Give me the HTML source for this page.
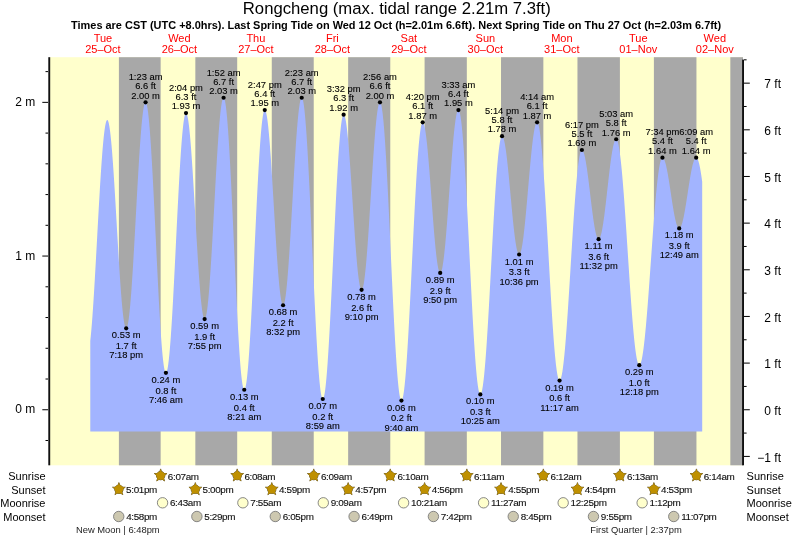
<!DOCTYPE html><html><head><meta charset="utf-8"><style>html,body{margin:0;padding:0;background:#fff;}svg{display:block;will-change:transform;}text{font-family:"Liberation Sans", sans-serif;}</style></head><body>
<svg width="793" height="539" viewBox="0 0 793 539">
<rect x="0" y="0" width="793" height="539" fill="#fff"/>
<rect x="49.00" y="57.20" width="694.00" height="408.10" fill="#ffffcc"/>
<rect x="118.90" y="57.20" width="41.75" height="408.10" fill="#a8a8a8"/>
<rect x="195.34" y="57.20" width="41.86" height="408.10" fill="#a8a8a8"/>
<rect x="271.77" y="57.20" width="41.96" height="408.10" fill="#a8a8a8"/>
<rect x="348.15" y="57.20" width="42.12" height="408.10" fill="#a8a8a8"/>
<rect x="424.59" y="57.20" width="42.23" height="408.10" fill="#a8a8a8"/>
<rect x="501.02" y="57.20" width="42.33" height="408.10" fill="#a8a8a8"/>
<rect x="577.46" y="57.20" width="42.44" height="408.10" fill="#a8a8a8"/>
<rect x="653.89" y="57.20" width="42.55" height="408.10" fill="#a8a8a8"/>
<rect x="730.33" y="57.20" width="12.67" height="408.10" fill="#a8a8a8"/>
<path d="M90.29,431.50 L90.29,340.73 L90.45,339.27 L90.61,337.74 L90.77,336.16 L90.93,334.51 L91.09,332.81 L91.25,331.04 L91.41,329.22 L91.57,327.35 L91.73,325.42 L91.89,323.44 L92.05,321.40 L92.21,319.32 L92.37,317.18 L92.52,315.00 L92.68,312.77 L92.84,310.49 L93.00,308.17 L93.16,305.81 L93.32,303.41 L93.48,300.96 L93.64,298.48 L93.80,295.96 L93.96,293.41 L94.12,290.82 L94.28,288.20 L94.44,285.54 L94.60,282.86 L94.76,280.16 L94.91,277.42 L95.07,274.66 L95.23,271.88 L95.39,269.08 L95.55,266.26 L95.71,263.43 L95.87,260.58 L96.03,257.71 L96.19,254.83 L96.35,251.94 L96.51,249.05 L96.67,246.14 L96.83,243.23 L96.99,240.32 L97.15,237.41 L97.30,234.49 L97.46,231.58 L97.62,228.68 L97.78,225.78 L97.94,222.88 L98.10,220.00 L98.26,217.12 L98.42,214.26 L98.58,211.42 L98.74,208.59 L98.90,205.77 L99.06,202.98 L99.22,200.21 L99.38,197.46 L99.54,194.74 L99.70,192.04 L99.85,189.37 L100.01,186.73 L100.17,184.12 L100.33,181.55 L100.49,179.01 L100.65,176.50 L100.81,174.04 L100.97,171.61 L101.13,169.22 L101.29,166.87 L101.45,164.57 L101.61,162.31 L101.77,160.10 L101.93,157.94 L102.09,155.82 L102.24,153.76 L102.40,151.74 L102.56,149.78 L102.72,147.87 L102.88,146.02 L103.04,144.23 L103.20,142.49 L103.36,140.81 L103.52,139.18 L103.68,137.62 L103.84,136.12 L104.00,134.68 L104.16,133.31 L104.32,132.00 L104.48,130.75 L104.63,129.57 L104.79,128.46 L104.95,127.41 L105.11,126.43 L105.27,125.51 L105.43,124.67 L105.59,123.90 L105.75,123.19 L105.91,122.56 L106.07,121.99 L106.23,121.50 L106.39,121.07 L106.55,120.72 L106.71,120.44 L106.87,120.23 L107.03,120.10 L107.18,120.03 L107.34,120.04 L107.50,120.12 L107.66,120.27 L107.82,120.50 L107.98,120.79 L108.14,121.17 L108.30,121.61 L108.46,122.12 L108.62,122.71 L108.78,123.36 L108.94,124.09 L109.10,124.89 L109.26,125.75 L109.42,126.69 L109.57,127.69 L109.73,128.76 L109.89,129.90 L110.05,131.10 L110.21,132.37 L110.37,133.70 L110.53,135.10 L110.69,136.56 L110.85,138.08 L111.01,139.65 L111.17,141.29 L111.33,142.99 L111.49,144.74 L111.65,146.55 L111.81,148.41 L111.97,150.33 L112.12,152.30 L112.28,154.32 L112.44,156.38 L112.60,158.50 L112.76,160.66 L112.92,162.86 L113.08,165.11 L113.24,167.40 L113.40,169.73 L113.56,172.09 L113.72,174.49 L113.88,176.93 L114.04,179.40 L114.20,181.90 L114.36,184.43 L114.51,186.99 L114.67,189.58 L114.83,192.19 L114.99,194.82 L115.15,197.47 L115.31,200.14 L115.47,202.83 L115.63,205.53 L115.79,208.25 L115.95,210.97 L116.11,213.71 L116.27,216.45 L116.43,219.20 L116.59,221.95 L116.75,224.71 L116.90,227.46 L117.06,230.21 L117.22,232.96 L117.38,235.70 L117.54,238.43 L117.70,241.15 L117.86,243.86 L118.02,246.56 L118.18,249.24 L118.34,251.91 L118.50,254.55 L118.66,257.17 L118.82,259.77 L118.98,262.35 L119.14,264.90 L119.30,267.42 L119.45,269.90 L119.61,272.36 L119.77,274.79 L119.93,277.17 L120.09,279.53 L120.25,281.84 L120.41,284.11 L120.57,286.34 L120.73,288.53 L120.89,290.67 L121.05,292.76 L121.21,294.81 L121.37,296.81 L121.53,298.76 L121.69,300.65 L121.84,302.49 L122.00,304.28 L122.16,306.01 L122.32,307.68 L122.48,309.30 L122.64,310.85 L122.80,312.35 L122.96,313.78 L123.12,315.15 L123.28,316.46 L123.44,317.70 L123.60,318.88 L123.76,319.99 L123.92,321.03 L124.08,322.01 L124.24,322.92 L124.39,323.76 L124.55,324.52 L124.71,325.22 L124.87,325.85 L125.03,326.41 L125.19,326.89 L125.35,327.31 L125.51,327.65 L125.67,327.92 L125.83,328.11 L125.99,328.24 L126.15,328.29 L126.31,328.26 L126.47,328.17 L126.63,327.99 L126.78,327.75 L126.94,327.42 L127.10,327.02 L127.26,326.55 L127.42,326.01 L127.58,325.39 L127.74,324.69 L127.90,323.92 L128.06,323.09 L128.22,322.17 L128.38,321.19 L128.54,320.14 L128.70,319.02 L128.86,317.83 L129.02,316.57 L129.17,315.24 L129.33,313.84 L129.49,312.38 L129.65,310.86 L129.81,309.27 L129.97,307.62 L130.13,305.91 L130.29,304.13 L130.45,302.30 L130.61,300.41 L130.77,298.47 L130.93,296.46 L131.09,294.41 L131.25,292.30 L131.41,290.14 L131.57,287.93 L131.72,285.67 L131.88,283.36 L132.04,281.01 L132.20,278.62 L132.36,276.18 L132.52,273.70 L132.68,271.19 L132.84,268.63 L133.00,266.04 L133.16,263.42 L133.32,260.76 L133.48,258.08 L133.64,255.37 L133.80,252.62 L133.96,249.86 L134.11,247.07 L134.27,244.26 L134.43,241.43 L134.59,238.59 L134.75,235.72 L134.91,232.85 L135.07,229.96 L135.23,227.06 L135.39,224.16 L135.55,221.25 L135.71,218.33 L135.87,215.42 L136.03,212.50 L136.19,209.59 L136.35,206.67 L136.50,203.77 L136.66,200.87 L136.82,197.98 L136.98,195.11 L137.14,192.24 L137.30,189.40 L137.46,186.57 L137.62,183.76 L137.78,180.97 L137.94,178.20 L138.10,175.46 L138.26,172.74 L138.42,170.05 L138.58,167.40 L138.74,164.77 L138.90,162.18 L139.05,159.62 L139.21,157.10 L139.37,154.62 L139.53,152.18 L139.69,149.79 L139.85,147.43 L140.01,145.12 L140.17,142.86 L140.33,140.65 L140.49,138.48 L140.65,136.37 L140.81,134.31 L140.97,132.31 L141.13,130.36 L141.29,128.46 L141.44,126.63 L141.60,124.85 L141.76,123.13 L141.92,121.48 L142.08,119.88 L142.24,118.36 L142.40,116.89 L142.56,115.49 L142.72,114.16 L142.88,112.90 L143.04,111.70 L143.20,110.57 L143.36,109.51 L143.52,108.53 L143.68,107.61 L143.84,106.77 L143.99,106.00 L144.15,105.30 L144.31,104.67 L144.47,104.12 L144.63,103.64 L144.79,103.24 L144.95,102.91 L145.11,102.66 L145.27,102.48 L145.43,102.38 L145.59,102.35 L145.75,102.40 L145.91,102.54 L146.07,102.75 L146.23,103.05 L146.38,103.43 L146.54,103.89 L146.70,104.43 L146.86,105.05 L147.02,105.75 L147.18,106.53 L147.34,107.39 L147.50,108.33 L147.66,109.35 L147.82,110.45 L147.98,111.62 L148.14,112.87 L148.30,114.19 L148.46,115.59 L148.62,117.07 L148.77,118.61 L148.93,120.23 L149.09,121.92 L149.25,123.68 L149.41,125.51 L149.57,127.40 L149.73,129.37 L149.89,131.40 L150.05,133.49 L150.21,135.64 L150.37,137.86 L150.53,140.14 L150.69,142.48 L150.85,144.87 L151.01,147.32 L151.17,149.83 L151.32,152.39 L151.48,155.00 L151.64,157.66 L151.80,160.36 L151.96,163.12 L152.12,165.92 L152.28,168.76 L152.44,171.65 L152.60,174.58 L152.76,177.54 L152.92,180.54 L153.08,183.57 L153.24,186.64 L153.40,189.74 L153.56,192.87 L153.71,196.02 L153.87,199.20 L154.03,202.40 L154.19,205.63 L154.35,208.87 L154.51,212.13 L154.67,215.41 L154.83,218.70 L154.99,222.00 L155.15,225.31 L155.31,228.63 L155.47,231.95 L155.63,235.28 L155.79,238.60 L155.95,241.93 L156.11,245.26 L156.26,248.58 L156.42,251.89 L156.58,255.20 L156.74,258.49 L156.90,261.77 L157.06,265.04 L157.22,268.29 L157.38,271.52 L157.54,274.73 L157.70,277.92 L157.86,281.09 L158.02,284.23 L158.18,287.34 L158.34,290.42 L158.50,293.46 L158.65,296.48 L158.81,299.46 L158.97,302.40 L159.13,305.30 L159.29,308.16 L159.45,310.98 L159.61,313.75 L159.77,316.48 L159.93,319.16 L160.09,321.79 L160.25,324.37 L160.41,326.89 L160.57,329.37 L160.73,331.78 L160.89,334.14 L161.04,336.45 L161.20,338.69 L161.36,340.87 L161.52,342.99 L161.68,345.04 L161.84,347.03 L162.00,348.95 L162.16,350.81 L162.32,352.60 L162.48,354.31 L162.64,355.96 L162.80,357.54 L162.96,359.04 L163.12,360.47 L163.28,361.82 L163.44,363.10 L163.59,364.30 L163.75,365.43 L163.91,366.48 L164.07,367.45 L164.23,368.34 L164.39,369.16 L164.55,369.89 L164.71,370.54 L164.87,371.12 L165.03,371.61 L165.19,372.02 L165.35,372.35 L165.51,372.60 L165.67,372.77 L165.83,372.85 L165.98,372.85 L166.14,372.78 L166.30,372.62 L166.46,372.38 L166.62,372.06 L166.78,371.66 L166.94,371.18 L167.10,370.62 L167.26,369.98 L167.42,369.26 L167.58,368.46 L167.74,367.59 L167.90,366.64 L168.06,365.61 L168.22,364.50 L168.37,363.32 L168.53,362.07 L168.69,360.74 L168.85,359.34 L169.01,357.86 L169.17,356.32 L169.33,354.70 L169.49,353.01 L169.65,351.26 L169.81,349.44 L169.97,347.55 L170.13,345.59 L170.29,343.58 L170.45,341.50 L170.61,339.36 L170.77,337.16 L170.92,334.90 L171.08,332.58 L171.24,330.21 L171.40,327.78 L171.56,325.31 L171.72,322.78 L171.88,320.20 L172.04,317.57 L172.20,314.89 L172.36,312.18 L172.52,309.41 L172.68,306.61 L172.84,303.77 L173.00,300.89 L173.16,297.97 L173.31,295.02 L173.47,292.04 L173.63,289.02 L173.79,285.98 L173.95,282.91 L174.11,279.82 L174.27,276.70 L174.43,273.57 L174.59,270.41 L174.75,267.24 L174.91,264.05 L175.07,260.85 L175.23,257.63 L175.39,254.41 L175.55,251.18 L175.71,247.95 L175.86,244.71 L176.02,241.47 L176.18,238.24 L176.34,235.00 L176.50,231.77 L176.66,228.55 L176.82,225.34 L176.98,222.14 L177.14,218.95 L177.30,215.77 L177.46,212.61 L177.62,209.48 L177.78,206.36 L177.94,203.26 L178.10,200.19 L178.25,197.15 L178.41,194.13 L178.57,191.15 L178.73,188.20 L178.89,185.28 L179.05,182.39 L179.21,179.55 L179.37,176.74 L179.53,173.98 L179.69,171.26 L179.85,168.58 L180.01,165.95 L180.17,163.37 L180.33,160.83 L180.49,158.35 L180.64,155.92 L180.80,153.55 L180.96,151.23 L181.12,148.96 L181.28,146.76 L181.44,144.61 L181.60,142.53 L181.76,140.51 L181.92,138.55 L182.08,136.66 L182.24,134.83 L182.40,133.07 L182.56,131.38 L182.72,129.76 L182.88,128.21 L183.04,126.73 L183.19,125.32 L183.35,123.99 L183.51,122.73 L183.67,121.54 L183.83,120.43 L183.99,119.40 L184.15,118.44 L184.31,117.56 L184.47,116.76 L184.63,116.04 L184.79,115.39 L184.95,114.83 L185.11,114.34 L185.27,113.94 L185.43,113.61 L185.58,113.37 L185.74,113.20 L185.90,113.12 L186.06,113.12 L186.22,113.19 L186.38,113.33 L186.54,113.55 L186.70,113.85 L186.86,114.22 L187.02,114.66 L187.18,115.17 L187.34,115.76 L187.50,116.42 L187.66,117.15 L187.82,117.95 L187.98,118.82 L188.13,119.77 L188.29,120.78 L188.45,121.86 L188.61,123.01 L188.77,124.23 L188.93,125.51 L189.09,126.86 L189.25,128.27 L189.41,129.75 L189.57,131.29 L189.73,132.88 L189.89,134.54 L190.05,136.26 L190.21,138.04 L190.37,139.87 L190.52,141.76 L190.68,143.70 L190.84,145.69 L191.00,147.73 L191.16,149.82 L191.32,151.96 L191.48,154.15 L191.64,156.38 L191.80,158.66 L191.96,160.97 L192.12,163.33 L192.28,165.72 L192.44,168.15 L192.60,170.61 L192.76,173.11 L192.91,175.64 L193.07,178.20 L193.23,180.78 L193.39,183.39 L193.55,186.02 L193.71,188.68 L193.87,191.35 L194.03,194.05 L194.19,196.76 L194.35,199.48 L194.51,202.21 L194.67,204.96 L194.83,207.71 L194.99,210.47 L195.15,213.23 L195.31,216.00 L195.46,218.76 L195.62,221.52 L195.78,224.28 L195.94,227.04 L196.10,229.78 L196.26,232.52 L196.42,235.24 L196.58,237.95 L196.74,240.64 L196.90,243.32 L197.06,245.98 L197.22,248.61 L197.38,251.22 L197.54,253.81 L197.70,256.37 L197.85,258.90 L198.01,261.40 L198.17,263.86 L198.33,266.30 L198.49,268.69 L198.65,271.05 L198.81,273.37 L198.97,275.64 L199.13,277.88 L199.29,280.07 L199.45,282.21 L199.61,284.31 L199.77,286.35 L199.93,288.35 L200.09,290.29 L200.24,292.18 L200.40,294.02 L200.56,295.80 L200.72,297.52 L200.88,299.18 L201.04,300.79 L201.20,302.33 L201.36,303.81 L201.52,305.22 L201.68,306.58 L201.84,307.86 L202.00,309.08 L202.16,310.24 L202.32,311.32 L202.48,312.34 L202.64,313.29 L202.79,314.17 L202.95,314.98 L203.11,315.71 L203.27,316.38 L203.43,316.97 L203.59,317.49 L203.75,317.93 L203.91,318.31 L204.07,318.60 L204.23,318.83 L204.39,318.98 L204.55,319.06 L204.71,319.06 L204.87,318.98 L205.03,318.83 L205.18,318.60 L205.34,318.30 L205.50,317.92 L205.66,317.46 L205.82,316.92 L205.98,316.31 L206.14,315.63 L206.30,314.87 L206.46,314.04 L206.62,313.13 L206.78,312.15 L206.94,311.09 L207.10,309.97 L207.26,308.77 L207.42,307.51 L207.58,306.17 L207.73,304.77 L207.89,303.30 L208.05,301.77 L208.21,300.17 L208.37,298.50 L208.53,296.77 L208.69,294.98 L208.85,293.13 L209.01,291.23 L209.17,289.26 L209.33,287.24 L209.49,285.16 L209.65,283.03 L209.81,280.85 L209.97,278.61 L210.12,276.33 L210.28,274.00 L210.44,271.62 L210.60,269.20 L210.76,266.74 L210.92,264.24 L211.08,261.70 L211.24,259.12 L211.40,256.51 L211.56,253.86 L211.72,251.18 L211.88,248.47 L212.04,245.73 L212.20,242.97 L212.36,240.18 L212.51,237.37 L212.67,234.54 L212.83,231.70 L212.99,228.83 L213.15,225.96 L213.31,223.06 L213.47,220.16 L213.63,217.26 L213.79,214.34 L213.95,211.42 L214.11,208.50 L214.27,205.58 L214.43,202.66 L214.59,199.74 L214.75,196.84 L214.91,193.93 L215.06,191.04 L215.22,188.16 L215.38,185.30 L215.54,182.45 L215.70,179.62 L215.86,176.81 L216.02,174.02 L216.18,171.26 L216.34,168.52 L216.50,165.81 L216.66,163.13 L216.82,160.48 L216.98,157.86 L217.14,155.28 L217.30,152.73 L217.45,150.23 L217.61,147.76 L217.77,145.34 L217.93,142.96 L218.09,140.63 L218.25,138.34 L218.41,136.11 L218.57,133.92 L218.73,131.79 L218.89,129.71 L219.05,127.68 L219.21,125.71 L219.37,123.80 L219.53,121.94 L219.69,120.15 L219.85,118.42 L220.00,116.75 L220.16,115.14 L220.32,113.60 L220.48,112.13 L220.64,110.72 L220.80,109.38 L220.96,108.11 L221.12,106.91 L221.28,105.78 L221.44,104.73 L221.60,103.74 L221.76,102.83 L221.92,101.99 L222.08,101.23 L222.24,100.54 L222.39,99.92 L222.55,99.38 L222.71,98.92 L222.87,98.53 L223.03,98.22 L223.19,97.99 L223.35,97.83 L223.51,97.75 L223.67,97.75 L223.83,97.83 L223.99,98.00 L224.15,98.25 L224.31,98.59 L224.47,99.02 L224.63,99.53 L224.78,100.12 L224.94,100.80 L225.10,101.56 L225.26,102.41 L225.42,103.34 L225.58,104.35 L225.74,105.44 L225.90,106.62 L226.06,107.87 L226.22,109.21 L226.38,110.62 L226.54,112.11 L226.70,113.68 L226.86,115.33 L227.02,117.05 L227.18,118.84 L227.33,120.71 L227.49,122.65 L227.65,124.66 L227.81,126.74 L227.97,128.89 L228.13,131.11 L228.29,133.40 L228.45,135.74 L228.61,138.16 L228.77,140.63 L228.93,143.17 L229.09,145.76 L229.25,148.41 L229.41,151.12 L229.57,153.88 L229.72,156.69 L229.88,159.56 L230.04,162.47 L230.20,165.44 L230.36,168.44 L230.52,171.50 L230.68,174.59 L230.84,177.73 L231.00,180.90 L231.16,184.11 L231.32,187.36 L231.48,190.64 L231.64,193.95 L231.80,197.29 L231.96,200.66 L232.11,204.05 L232.27,207.46 L232.43,210.90 L232.59,214.36 L232.75,217.83 L232.91,221.32 L233.07,224.82 L233.23,228.33 L233.39,231.86 L233.55,235.39 L233.71,238.92 L233.87,242.46 L234.03,245.99 L234.19,249.53 L234.35,253.06 L234.51,256.59 L234.66,260.11 L234.82,263.62 L234.98,267.12 L235.14,270.60 L235.30,274.07 L235.46,277.53 L235.62,280.96 L235.78,284.37 L235.94,287.75 L236.10,291.11 L236.26,294.44 L236.42,297.75 L236.58,301.02 L236.74,304.25 L236.90,307.46 L237.05,310.62 L237.21,313.75 L237.37,316.83 L237.53,319.87 L237.69,322.87 L237.85,325.82 L238.01,328.72 L238.17,331.57 L238.33,334.37 L238.49,337.12 L238.65,339.81 L238.81,342.45 L238.97,345.02 L239.13,347.54 L239.29,350.00 L239.45,352.40 L239.60,354.73 L239.76,356.99 L239.92,359.19 L240.08,361.33 L240.24,363.39 L240.40,365.38 L240.56,367.30 L240.72,369.15 L240.88,370.93 L241.04,372.63 L241.20,374.25 L241.36,375.80 L241.52,377.27 L241.68,378.67 L241.84,379.98 L241.99,381.21 L242.15,382.37 L242.31,383.44 L242.47,384.43 L242.63,385.33 L242.79,386.16 L242.95,386.90 L243.11,387.55 L243.27,388.12 L243.43,388.61 L243.59,389.01 L243.75,389.33 L243.91,389.56 L244.07,389.71 L244.23,389.77 L244.38,389.74 L244.54,389.63 L244.70,389.44 L244.86,389.17 L245.02,388.81 L245.18,388.37 L245.34,387.85 L245.50,387.24 L245.66,386.55 L245.82,385.78 L245.98,384.93 L246.14,384.00 L246.30,382.99 L246.46,381.90 L246.62,380.74 L246.78,379.49 L246.93,378.17 L247.09,376.77 L247.25,375.29 L247.41,373.74 L247.57,372.12 L247.73,370.42 L247.89,368.65 L248.05,366.81 L248.21,364.90 L248.37,362.92 L248.53,360.88 L248.69,358.77 L248.85,356.59 L249.01,354.35 L249.17,352.05 L249.32,349.68 L249.48,347.26 L249.64,344.78 L249.80,342.24 L249.96,339.65 L250.12,337.01 L250.28,334.31 L250.44,331.56 L250.60,328.76 L250.76,325.92 L250.92,323.03 L251.08,320.10 L251.24,317.12 L251.40,314.11 L251.56,311.06 L251.72,307.97 L251.87,304.84 L252.03,301.69 L252.19,298.50 L252.35,295.28 L252.51,292.04 L252.67,288.77 L252.83,285.48 L252.99,282.17 L253.15,278.83 L253.31,275.48 L253.47,272.12 L253.63,268.74 L253.79,265.35 L253.95,261.95 L254.11,258.55 L254.26,255.14 L254.42,251.72 L254.58,248.31 L254.74,244.89 L254.90,241.48 L255.06,238.08 L255.22,234.68 L255.38,231.29 L255.54,227.91 L255.70,224.54 L255.86,221.19 L256.02,217.86 L256.18,214.55 L256.34,211.25 L256.50,207.98 L256.65,204.74 L256.81,201.52 L256.97,198.33 L257.13,195.17 L257.29,192.04 L257.45,188.95 L257.61,185.90 L257.77,182.88 L257.93,179.90 L258.09,176.97 L258.25,174.08 L258.41,171.23 L258.57,168.43 L258.73,165.68 L258.89,162.98 L259.05,160.33 L259.20,157.73 L259.36,155.19 L259.52,152.71 L259.68,150.28 L259.84,147.91 L260.00,145.61 L260.16,143.36 L260.32,141.18 L260.48,139.07 L260.64,137.02 L260.80,135.03 L260.96,133.12 L261.12,131.27 L261.28,129.50 L261.44,127.80 L261.59,126.17 L261.75,124.61 L261.91,123.13 L262.07,121.73 L262.23,120.40 L262.39,119.15 L262.55,117.98 L262.71,116.88 L262.87,115.87 L263.03,114.93 L263.19,114.07 L263.35,113.30 L263.51,112.61 L263.67,112.00 L263.83,111.47 L263.98,111.02 L264.14,110.66 L264.30,110.38 L264.46,110.18 L264.62,110.07 L264.78,110.04 L264.94,110.08 L265.10,110.20 L265.26,110.39 L265.42,110.66 L265.58,110.99 L265.74,111.40 L265.90,111.88 L266.06,112.43 L266.22,113.06 L266.38,113.75 L266.53,114.51 L266.69,115.35 L266.85,116.25 L267.01,117.22 L267.17,118.26 L267.33,119.36 L267.49,120.53 L267.65,121.77 L267.81,123.07 L267.97,124.43 L268.13,125.85 L268.29,127.34 L268.45,128.88 L268.61,130.49 L268.77,132.15 L268.92,133.87 L269.08,135.64 L269.24,137.47 L269.40,139.35 L269.56,141.28 L269.72,143.26 L269.88,145.29 L270.04,147.36 L270.20,149.48 L270.36,151.64 L270.52,153.85 L270.68,156.09 L270.84,158.37 L271.00,160.69 L271.16,163.05 L271.32,165.44 L271.47,167.86 L271.63,170.31 L271.79,172.78 L271.95,175.29 L272.11,177.81 L272.27,180.36 L272.43,182.93 L272.59,185.52 L272.75,188.13 L272.91,190.74 L273.07,193.38 L273.23,196.02 L273.39,198.67 L273.55,201.33 L273.71,203.99 L273.86,206.66 L274.02,209.32 L274.18,211.99 L274.34,214.65 L274.50,217.31 L274.66,219.96 L274.82,222.60 L274.98,225.22 L275.14,227.84 L275.30,230.44 L275.46,233.02 L275.62,235.59 L275.78,238.13 L275.94,240.65 L276.10,243.15 L276.25,245.62 L276.41,248.06 L276.57,250.47 L276.73,252.85 L276.89,255.20 L277.05,257.51 L277.21,259.78 L277.37,262.01 L277.53,264.21 L277.69,266.36 L277.85,268.47 L278.01,270.53 L278.17,272.54 L278.33,274.51 L278.49,276.43 L278.65,278.29 L278.80,280.11 L278.96,281.86 L279.12,283.57 L279.28,285.21 L279.44,286.80 L279.60,288.33 L279.76,289.80 L279.92,291.21 L280.08,292.56 L280.24,293.84 L280.40,295.06 L280.56,296.21 L280.72,297.29 L280.88,298.31 L281.04,299.27 L281.19,300.15 L281.35,300.97 L281.51,301.71 L281.67,302.38 L281.83,302.99 L281.99,303.52 L282.15,303.98 L282.31,304.37 L282.47,304.69 L282.63,304.93 L282.79,305.11 L282.95,305.21 L283.11,305.23 L283.27,305.19 L283.43,305.06 L283.59,304.87 L283.74,304.60 L283.90,304.25 L284.06,303.83 L284.22,303.34 L284.38,302.77 L284.54,302.13 L284.70,301.42 L284.86,300.63 L285.02,299.78 L285.18,298.85 L285.34,297.85 L285.50,296.79 L285.66,295.65 L285.82,294.45 L285.98,293.18 L286.13,291.84 L286.29,290.44 L286.45,288.97 L286.61,287.45 L286.77,285.85 L286.93,284.20 L287.09,282.49 L287.25,280.72 L287.41,278.90 L287.57,277.01 L287.73,275.08 L287.89,273.09 L288.05,271.05 L288.21,268.95 L288.37,266.81 L288.52,264.63 L288.68,262.39 L288.84,260.12 L289.00,257.80 L289.16,255.44 L289.32,253.04 L289.48,250.60 L289.64,248.13 L289.80,245.63 L289.96,243.09 L290.12,240.52 L290.28,237.93 L290.44,235.31 L290.60,232.66 L290.76,229.99 L290.92,227.31 L291.07,224.60 L291.23,221.87 L291.39,219.14 L291.55,216.38 L291.71,213.62 L291.87,210.85 L292.03,208.07 L292.19,205.29 L292.35,202.51 L292.51,199.72 L292.67,196.94 L292.83,194.16 L292.99,191.38 L293.15,188.61 L293.31,185.85 L293.46,183.11 L293.62,180.37 L293.78,177.65 L293.94,174.95 L294.10,172.27 L294.26,169.60 L294.42,166.96 L294.58,164.35 L294.74,161.76 L294.90,159.20 L295.06,156.68 L295.22,154.18 L295.38,151.72 L295.54,149.29 L295.70,146.90 L295.85,144.55 L296.01,142.25 L296.17,139.98 L296.33,137.76 L296.49,135.58 L296.65,133.46 L296.81,131.38 L296.97,129.35 L297.13,127.37 L297.29,125.45 L297.45,123.58 L297.61,121.77 L297.77,120.02 L297.93,118.32 L298.09,116.69 L298.25,115.11 L298.40,113.60 L298.56,112.15 L298.72,110.77 L298.88,109.45 L299.04,108.20 L299.20,107.01 L299.36,105.90 L299.52,104.85 L299.68,103.87 L299.84,102.96 L300.00,102.12 L300.16,101.36 L300.32,100.67 L300.48,100.04 L300.64,99.50 L300.79,99.02 L300.95,98.62 L301.11,98.30 L301.27,98.05 L301.43,97.87 L301.59,97.77 L301.75,97.74 L301.91,97.79 L302.07,97.93 L302.23,98.16 L302.39,98.47 L302.55,98.86 L302.71,99.34 L302.87,99.90 L303.03,100.55 L303.19,101.28 L303.34,102.10 L303.50,103.00 L303.66,103.98 L303.82,105.04 L303.98,106.18 L304.14,107.40 L304.30,108.71 L304.46,110.09 L304.62,111.55 L304.78,113.09 L304.94,114.70 L305.10,116.39 L305.26,118.16 L305.42,120.00 L305.58,121.91 L305.73,123.89 L305.89,125.95 L306.05,128.07 L306.21,130.26 L306.37,132.52 L306.53,134.84 L306.69,137.23 L306.85,139.68 L307.01,142.19 L307.17,144.77 L307.33,147.40 L307.49,150.09 L307.65,152.83 L307.81,155.63 L307.97,158.48 L308.12,161.38 L308.28,164.33 L308.44,167.33 L308.60,170.38 L308.76,173.47 L308.92,176.60 L309.08,179.77 L309.24,182.98 L309.40,186.23 L309.56,189.51 L309.72,192.83 L309.88,196.17 L310.04,199.55 L310.20,202.96 L310.36,206.39 L310.52,209.84 L310.67,213.32 L310.83,216.81 L310.99,220.33 L311.15,223.86 L311.31,227.40 L311.47,230.96 L311.63,234.52 L311.79,238.10 L311.95,241.68 L312.11,245.26 L312.27,248.84 L312.43,252.43 L312.59,256.01 L312.75,259.59 L312.91,263.16 L313.06,266.72 L313.22,270.27 L313.38,273.81 L313.54,277.34 L313.70,280.85 L313.86,284.34 L314.02,287.81 L314.18,291.26 L314.34,294.68 L314.50,298.08 L314.66,301.45 L314.82,304.79 L314.98,308.10 L315.14,311.37 L315.30,314.61 L315.46,317.81 L315.61,320.97 L315.77,324.09 L315.93,327.17 L316.09,330.20 L316.25,333.19 L316.41,336.13 L316.57,339.01 L316.73,341.85 L316.89,344.64 L317.05,347.36 L317.21,350.04 L317.37,352.65 L317.53,355.21 L317.69,357.71 L317.85,360.14 L318.00,362.51 L318.16,364.82 L318.32,367.06 L318.48,369.23 L318.64,371.34 L318.80,373.37 L318.96,375.34 L319.12,377.23 L319.28,379.05 L319.44,380.79 L319.60,382.47 L319.76,384.06 L319.92,385.58 L320.08,387.02 L320.24,388.38 L320.39,389.66 L320.55,390.86 L320.71,391.98 L320.87,393.02 L321.03,393.98 L321.19,394.86 L321.35,395.65 L321.51,396.36 L321.67,396.98 L321.83,397.53 L321.99,397.98 L322.15,398.35 L322.31,398.64 L322.47,398.84 L322.63,398.96 L322.79,398.99 L322.94,398.94 L323.10,398.80 L323.26,398.59 L323.42,398.29 L323.58,397.92 L323.74,397.46 L323.90,396.92 L324.06,396.30 L324.22,395.59 L324.38,394.81 L324.54,393.95 L324.70,393.01 L324.86,392.00 L325.02,390.90 L325.18,389.73 L325.33,388.48 L325.49,387.16 L325.65,385.76 L325.81,384.29 L325.97,382.74 L326.13,381.12 L326.29,379.43 L326.45,377.67 L326.61,375.84 L326.77,373.94 L326.93,371.97 L327.09,369.94 L327.25,367.84 L327.41,365.68 L327.57,363.46 L327.72,361.17 L327.88,358.83 L328.04,356.42 L328.20,353.96 L328.36,351.44 L328.52,348.87 L328.68,346.25 L328.84,343.57 L329.00,340.84 L329.16,338.07 L329.32,335.25 L329.48,332.38 L329.64,329.47 L329.80,326.52 L329.96,323.53 L330.12,320.50 L330.27,317.43 L330.43,314.33 L330.59,311.20 L330.75,308.03 L330.91,304.84 L331.07,301.62 L331.23,298.37 L331.39,295.10 L331.55,291.80 L331.71,288.49 L331.87,285.15 L332.03,281.80 L332.19,278.44 L332.35,275.07 L332.51,271.68 L332.66,268.28 L332.82,264.88 L332.98,261.48 L333.14,258.07 L333.30,254.66 L333.46,251.25 L333.62,247.85 L333.78,244.45 L333.94,241.05 L334.10,237.67 L334.26,234.30 L334.42,230.94 L334.58,227.59 L334.74,224.26 L334.90,220.96 L335.06,217.67 L335.21,214.40 L335.37,211.16 L335.53,207.94 L335.69,204.76 L335.85,201.60 L336.01,198.47 L336.17,195.38 L336.33,192.32 L336.49,189.30 L336.65,186.32 L336.81,183.38 L336.97,180.49 L337.13,177.63 L337.29,174.82 L337.45,172.06 L337.60,169.35 L337.76,166.69 L337.92,164.08 L338.08,161.52 L338.24,159.02 L338.40,156.57 L338.56,154.18 L338.72,151.85 L338.88,149.58 L339.04,147.37 L339.20,145.23 L339.36,143.15 L339.52,141.13 L339.68,139.19 L339.84,137.30 L339.99,135.49 L340.15,133.75 L340.31,132.08 L340.47,130.48 L340.63,128.95 L340.79,127.50 L340.95,126.12 L341.11,124.81 L341.27,123.59 L341.43,122.43 L341.59,121.36 L341.75,120.36 L341.91,119.45 L342.07,118.61 L342.23,117.85 L342.39,117.17 L342.54,116.57 L342.70,116.05 L342.86,115.61 L343.02,115.26 L343.18,114.98 L343.34,114.79 L343.50,114.68 L343.66,114.65 L343.82,114.69 L343.98,114.80 L344.14,114.98 L344.30,115.23 L344.46,115.54 L344.62,115.92 L344.78,116.37 L344.93,116.89 L345.09,117.47 L345.25,118.12 L345.41,118.83 L345.57,119.61 L345.73,120.46 L345.89,121.36 L346.05,122.33 L346.21,123.36 L346.37,124.46 L346.53,125.61 L346.69,126.82 L346.85,128.09 L347.01,129.42 L347.17,130.81 L347.33,132.25 L347.48,133.75 L347.64,135.29 L347.80,136.90 L347.96,138.55 L348.12,140.25 L348.28,142.00 L348.44,143.79 L348.60,145.64 L348.76,147.52 L348.92,149.45 L349.08,151.42 L349.24,153.43 L349.40,155.48 L349.56,157.56 L349.72,159.68 L349.87,161.83 L350.03,164.01 L350.19,166.22 L350.35,168.47 L350.51,170.73 L350.67,173.02 L350.83,175.34 L350.99,177.67 L351.15,180.03 L351.31,182.40 L351.47,184.78 L351.63,187.18 L351.79,189.60 L351.95,192.02 L352.11,194.45 L352.26,196.88 L352.42,199.32 L352.58,201.77 L352.74,204.21 L352.90,206.65 L353.06,209.09 L353.22,211.52 L353.38,213.95 L353.54,216.36 L353.70,218.77 L353.86,221.16 L354.02,223.54 L354.18,225.90 L354.34,228.24 L354.50,230.56 L354.66,232.86 L354.81,235.14 L354.97,237.39 L355.13,239.62 L355.29,241.81 L355.45,243.97 L355.61,246.11 L355.77,248.20 L355.93,250.27 L356.09,252.29 L356.25,254.28 L356.41,256.22 L356.57,258.12 L356.73,259.98 L356.89,261.80 L357.05,263.57 L357.20,265.29 L357.36,266.96 L357.52,268.58 L357.68,270.15 L357.84,271.67 L358.00,273.13 L358.16,274.54 L358.32,275.89 L358.48,277.19 L358.64,278.42 L358.80,279.60 L358.96,280.72 L359.12,281.77 L359.28,282.77 L359.44,283.70 L359.59,284.57 L359.75,285.37 L359.91,286.11 L360.07,286.79 L360.23,287.40 L360.39,287.94 L360.55,288.41 L360.71,288.82 L360.87,289.16 L361.03,289.44 L361.19,289.65 L361.35,289.78 L361.51,289.85 L361.67,289.86 L361.83,289.79 L361.99,289.65 L362.14,289.45 L362.30,289.17 L362.46,288.83 L362.62,288.41 L362.78,287.93 L362.94,287.38 L363.10,286.76 L363.26,286.08 L363.42,285.33 L363.58,284.51 L363.74,283.63 L363.90,282.68 L364.06,281.67 L364.22,280.59 L364.38,279.45 L364.53,278.25 L364.69,276.99 L364.85,275.67 L365.01,274.29 L365.17,272.85 L365.33,271.35 L365.49,269.80 L365.65,268.20 L365.81,266.54 L365.97,264.82 L366.13,263.06 L366.29,261.25 L366.45,259.39 L366.61,257.48 L366.77,255.53 L366.93,253.53 L367.08,251.49 L367.24,249.41 L367.40,247.29 L367.56,245.13 L367.72,242.94 L367.88,240.71 L368.04,238.44 L368.20,236.15 L368.36,233.83 L368.52,231.47 L368.68,229.10 L368.84,226.69 L369.00,224.27 L369.16,221.82 L369.32,219.36 L369.47,216.88 L369.63,214.38 L369.79,211.87 L369.95,209.34 L370.11,206.81 L370.27,204.27 L370.43,201.72 L370.59,199.17 L370.75,196.62 L370.91,194.06 L371.07,191.51 L371.23,188.96 L371.39,186.42 L371.55,183.88 L371.71,181.36 L371.86,178.84 L372.02,176.34 L372.18,173.85 L372.34,171.38 L372.50,168.92 L372.66,166.49 L372.82,164.08 L372.98,161.69 L373.14,159.33 L373.30,156.99 L373.46,154.68 L373.62,152.41 L373.78,150.17 L373.94,147.96 L374.10,145.78 L374.26,143.65 L374.41,141.55 L374.57,139.49 L374.73,137.48 L374.89,135.51 L375.05,133.58 L375.21,131.70 L375.37,129.87 L375.53,128.09 L375.69,126.36 L375.85,124.68 L376.01,123.05 L376.17,121.47 L376.33,119.96 L376.49,118.50 L376.65,117.09 L376.80,115.75 L376.96,114.46 L377.12,113.24 L377.28,112.07 L377.44,110.97 L377.60,109.93 L377.76,108.96 L377.92,108.05 L378.08,107.21 L378.24,106.43 L378.40,105.72 L378.56,105.07 L378.72,104.49 L378.88,103.99 L379.04,103.54 L379.20,103.17 L379.35,102.87 L379.51,102.64 L379.67,102.47 L379.83,102.38 L379.99,102.35 L380.15,102.40 L380.31,102.53 L380.47,102.75 L380.63,103.04 L380.79,103.42 L380.95,103.87 L381.11,104.41 L381.27,105.03 L381.43,105.72 L381.59,106.50 L381.74,107.35 L381.90,108.28 L382.06,109.29 L382.22,110.38 L382.38,111.54 L382.54,112.79 L382.70,114.10 L382.86,115.49 L383.02,116.96 L383.18,118.49 L383.34,120.10 L383.50,121.79 L383.66,123.54 L383.82,125.36 L383.98,127.25 L384.13,129.21 L384.29,131.23 L384.45,133.32 L384.61,135.48 L384.77,137.70 L384.93,139.97 L385.09,142.31 L385.25,144.71 L385.41,147.17 L385.57,149.69 L385.73,152.25 L385.89,154.88 L386.05,157.55 L386.21,160.28 L386.37,163.06 L386.53,165.88 L386.68,168.75 L386.84,171.67 L387.00,174.63 L387.16,177.63 L387.32,180.67 L387.48,183.75 L387.64,186.87 L387.80,190.02 L387.96,193.21 L388.12,196.43 L388.28,199.67 L388.44,202.95 L388.60,206.25 L388.76,209.58 L388.92,212.93 L389.07,216.30 L389.23,219.69 L389.39,223.09 L389.55,226.51 L389.71,229.95 L389.87,233.40 L390.03,236.85 L390.19,240.32 L390.35,243.79 L390.51,247.27 L390.67,250.74 L390.83,254.22 L390.99,257.70 L391.15,261.17 L391.31,264.64 L391.46,268.10 L391.62,271.55 L391.78,274.99 L391.94,278.42 L392.10,281.83 L392.26,285.23 L392.42,288.61 L392.58,291.96 L392.74,295.30 L392.90,298.61 L393.06,301.90 L393.22,305.16 L393.38,308.39 L393.54,311.58 L393.70,314.75 L393.86,317.88 L394.01,320.98 L394.17,324.03 L394.33,327.05 L394.49,330.03 L394.65,332.96 L394.81,335.85 L394.97,338.70 L395.13,341.49 L395.29,344.24 L395.45,346.94 L395.61,349.58 L395.77,352.17 L395.93,354.71 L396.09,357.19 L396.25,359.61 L396.40,361.97 L396.56,364.28 L396.72,366.52 L396.88,368.70 L397.04,370.82 L397.20,372.87 L397.36,374.85 L397.52,376.77 L397.68,378.62 L397.84,380.40 L398.00,382.11 L398.16,383.75 L398.32,385.31 L398.48,386.81 L398.64,388.23 L398.80,389.58 L398.95,390.85 L399.11,392.04 L399.27,393.16 L399.43,394.20 L399.59,395.16 L399.75,396.05 L399.91,396.86 L400.07,397.58 L400.23,398.23 L400.39,398.80 L400.55,399.29 L400.71,399.70 L400.87,400.02 L401.03,400.27 L401.19,400.43 L401.34,400.52 L401.50,400.52 L401.66,400.44 L401.82,400.29 L401.98,400.06 L402.14,399.76 L402.30,399.38 L402.46,398.92 L402.62,398.38 L402.78,397.77 L402.94,397.08 L403.10,396.32 L403.26,395.48 L403.42,394.57 L403.58,393.58 L403.73,392.53 L403.89,391.39 L404.05,390.19 L404.21,388.91 L404.37,387.57 L404.53,386.15 L404.69,384.67 L404.85,383.11 L405.01,381.49 L405.17,379.80 L405.33,378.05 L405.49,376.23 L405.65,374.35 L405.81,372.40 L405.97,370.39 L406.13,368.33 L406.28,366.20 L406.44,364.02 L406.60,361.77 L406.76,359.48 L406.92,357.13 L407.08,354.72 L407.24,352.26 L407.40,349.76 L407.56,347.20 L407.72,344.60 L407.88,341.95 L408.04,339.25 L408.20,336.51 L408.36,333.74 L408.52,330.92 L408.67,328.06 L408.83,325.16 L408.99,322.23 L409.15,319.27 L409.31,316.27 L409.47,313.24 L409.63,310.19 L409.79,307.11 L409.95,304.00 L410.11,300.87 L410.27,297.71 L410.43,294.54 L410.59,291.35 L410.75,288.14 L410.91,284.91 L411.07,281.68 L411.22,278.43 L411.38,275.17 L411.54,271.91 L411.70,268.64 L411.86,265.36 L412.02,262.08 L412.18,258.81 L412.34,255.53 L412.50,252.26 L412.66,248.99 L412.82,245.73 L412.98,242.48 L413.14,239.24 L413.30,236.01 L413.46,232.79 L413.61,229.60 L413.77,226.41 L413.93,223.25 L414.09,220.11 L414.25,216.99 L414.41,213.90 L414.57,210.83 L414.73,207.80 L414.89,204.79 L415.05,201.81 L415.21,198.86 L415.37,195.96 L415.53,193.08 L415.69,190.25 L415.85,187.45 L416.00,184.70 L416.16,181.98 L416.32,179.32 L416.48,176.69 L416.64,174.12 L416.80,171.59 L416.96,169.11 L417.12,166.69 L417.28,164.32 L417.44,162.00 L417.60,159.73 L417.76,157.52 L417.92,155.37 L418.08,153.28 L418.24,151.25 L418.40,149.28 L418.55,147.38 L418.71,145.53 L418.87,143.75 L419.03,142.04 L419.19,140.39 L419.35,138.81 L419.51,137.29 L419.67,135.85 L419.83,134.48 L419.99,133.17 L420.15,131.94 L420.31,130.78 L420.47,129.69 L420.63,128.67 L420.79,127.73 L420.94,126.87 L421.10,126.07 L421.26,125.36 L421.42,124.71 L421.58,124.15 L421.74,123.66 L421.90,123.24 L422.06,122.91 L422.22,122.65 L422.38,122.47 L422.54,122.36 L422.70,122.33 L422.86,122.37 L423.02,122.47 L423.18,122.63 L423.33,122.86 L423.49,123.14 L423.65,123.48 L423.81,123.89 L423.97,124.35 L424.13,124.88 L424.29,125.46 L424.45,126.11 L424.61,126.81 L424.77,127.57 L424.93,128.38 L425.09,129.26 L425.25,130.19 L425.41,131.17 L425.57,132.21 L425.73,133.30 L425.88,134.44 L426.04,135.64 L426.20,136.88 L426.36,138.18 L426.52,139.52 L426.68,140.91 L426.84,142.35 L427.00,143.83 L427.16,145.36 L427.32,146.93 L427.48,148.54 L427.64,150.19 L427.80,151.88 L427.96,153.61 L428.12,155.37 L428.27,157.17 L428.43,159.00 L428.59,160.86 L428.75,162.75 L428.91,164.67 L429.07,166.62 L429.23,168.59 L429.39,170.59 L429.55,172.61 L429.71,174.64 L429.87,176.70 L430.03,178.78 L430.19,180.87 L430.35,182.97 L430.51,185.08 L430.67,187.21 L430.82,189.34 L430.98,191.48 L431.14,193.63 L431.30,195.78 L431.46,197.93 L431.62,200.08 L431.78,202.23 L431.94,204.37 L432.10,206.51 L432.26,208.65 L432.42,210.77 L432.58,212.88 L432.74,214.98 L432.90,217.07 L433.06,219.14 L433.21,221.19 L433.37,223.22 L433.53,225.24 L433.69,227.23 L433.85,229.19 L434.01,231.13 L434.17,233.04 L434.33,234.93 L434.49,236.78 L434.65,238.60 L434.81,240.39 L434.97,242.14 L435.13,243.86 L435.29,245.54 L435.45,247.18 L435.60,248.78 L435.76,250.34 L435.92,251.85 L436.08,253.32 L436.24,254.75 L436.40,256.13 L436.56,257.46 L436.72,258.74 L436.88,259.97 L437.04,261.16 L437.20,262.29 L437.36,263.36 L437.52,264.39 L437.68,265.36 L437.84,266.27 L438.00,267.13 L438.15,267.93 L438.31,268.67 L438.47,269.36 L438.63,269.99 L438.79,270.56 L438.95,271.06 L439.11,271.51 L439.27,271.90 L439.43,272.23 L439.59,272.50 L439.75,272.70 L439.91,272.85 L440.07,272.93 L440.23,272.96 L440.39,272.92 L440.54,272.82 L440.70,272.66 L440.86,272.43 L441.02,272.15 L441.18,271.80 L441.34,271.40 L441.50,270.93 L441.66,270.41 L441.82,269.82 L441.98,269.17 L442.14,268.47 L442.30,267.71 L442.46,266.89 L442.62,266.02 L442.78,265.08 L442.94,264.10 L443.09,263.05 L443.25,261.96 L443.41,260.81 L443.57,259.60 L443.73,258.35 L443.89,257.05 L444.05,255.69 L444.21,254.29 L444.37,252.84 L444.53,251.35 L444.69,249.81 L444.85,248.22 L445.01,246.59 L445.17,244.92 L445.33,243.21 L445.48,241.47 L445.64,239.68 L445.80,237.86 L445.96,236.00 L446.12,234.11 L446.28,232.18 L446.44,230.23 L446.60,228.25 L446.76,226.23 L446.92,224.20 L447.08,222.13 L447.24,220.05 L447.40,217.94 L447.56,215.82 L447.72,213.67 L447.87,211.51 L448.03,209.33 L448.19,207.14 L448.35,204.94 L448.51,202.73 L448.67,200.51 L448.83,198.28 L448.99,196.04 L449.15,193.81 L449.31,191.57 L449.47,189.33 L449.63,187.10 L449.79,184.86 L449.95,182.63 L450.11,180.41 L450.27,178.20 L450.42,176.00 L450.58,173.81 L450.74,171.63 L450.90,169.46 L451.06,167.32 L451.22,165.19 L451.38,163.08 L451.54,161.00 L451.70,158.93 L451.86,156.89 L452.02,154.88 L452.18,152.89 L452.34,150.94 L452.50,149.01 L452.66,147.12 L452.81,145.26 L452.97,143.43 L453.13,141.64 L453.29,139.89 L453.45,138.18 L453.61,136.51 L453.77,134.88 L453.93,133.29 L454.09,131.75 L454.25,130.25 L454.41,128.80 L454.57,127.39 L454.73,126.03 L454.89,124.73 L455.05,123.47 L455.20,122.26 L455.36,121.11 L455.52,120.01 L455.68,118.96 L455.84,117.97 L456.00,117.04 L456.16,116.16 L456.32,115.33 L456.48,114.57 L456.64,113.86 L456.80,113.21 L456.96,112.62 L457.12,112.09 L457.28,111.62 L457.44,111.21 L457.60,110.87 L457.75,110.58 L457.91,110.35 L458.07,110.18 L458.23,110.08 L458.39,110.04 L458.55,110.06 L458.71,110.16 L458.87,110.33 L459.03,110.57 L459.19,110.89 L459.35,111.28 L459.51,111.75 L459.67,112.29 L459.83,112.91 L459.99,113.59 L460.14,114.35 L460.30,115.18 L460.46,116.09 L460.62,117.06 L460.78,118.11 L460.94,119.22 L461.10,120.41 L461.26,121.66 L461.42,122.98 L461.58,124.37 L461.74,125.83 L461.90,127.35 L462.06,128.94 L462.22,130.59 L462.38,132.31 L462.54,134.09 L462.69,135.93 L462.85,137.83 L463.01,139.79 L463.17,141.81 L463.33,143.89 L463.49,146.02 L463.65,148.21 L463.81,150.46 L463.97,152.76 L464.13,155.11 L464.29,157.51 L464.45,159.96 L464.61,162.45 L464.77,165.00 L464.93,167.59 L465.08,170.23 L465.24,172.91 L465.40,175.63 L465.56,178.39 L465.72,181.18 L465.88,184.02 L466.04,186.89 L466.20,189.80 L466.36,192.73 L466.52,195.70 L466.68,198.70 L466.84,201.73 L467.00,204.78 L467.16,207.86 L467.32,210.96 L467.47,214.09 L467.63,217.23 L467.79,220.39 L467.95,223.57 L468.11,226.76 L468.27,229.97 L468.43,233.18 L468.59,236.41 L468.75,239.65 L468.91,242.89 L469.07,246.14 L469.23,249.39 L469.39,252.64 L469.55,255.89 L469.71,259.14 L469.87,262.39 L470.02,265.63 L470.18,268.86 L470.34,272.09 L470.50,275.30 L470.66,278.51 L470.82,281.70 L470.98,284.87 L471.14,288.03 L471.30,291.16 L471.46,294.28 L471.62,297.38 L471.78,300.45 L471.94,303.49 L472.10,306.51 L472.26,309.51 L472.41,312.47 L472.57,315.40 L472.73,318.29 L472.89,321.16 L473.05,323.98 L473.21,326.77 L473.37,329.52 L473.53,332.23 L473.69,334.89 L473.85,337.52 L474.01,340.10 L474.17,342.63 L474.33,345.12 L474.49,347.55 L474.65,349.94 L474.81,352.28 L474.96,354.56 L475.12,356.79 L475.28,358.97 L475.44,361.09 L475.60,363.15 L475.76,365.15 L475.92,367.10 L476.08,368.99 L476.24,370.81 L476.40,372.57 L476.56,374.27 L476.72,375.91 L476.88,377.48 L477.04,378.98 L477.20,380.42 L477.35,381.79 L477.51,383.10 L477.67,384.33 L477.83,385.50 L477.99,386.59 L478.15,387.62 L478.31,388.58 L478.47,389.46 L478.63,390.27 L478.79,391.01 L478.95,391.68 L479.11,392.27 L479.27,392.80 L479.43,393.24 L479.59,393.62 L479.74,393.92 L479.90,394.14 L480.06,394.29 L480.22,394.37 L480.38,394.37 L480.54,394.31 L480.70,394.17 L480.86,393.97 L481.02,393.70 L481.18,393.36 L481.34,392.95 L481.50,392.47 L481.66,391.93 L481.82,391.32 L481.98,390.64 L482.14,389.90 L482.29,389.09 L482.45,388.21 L482.61,387.27 L482.77,386.27 L482.93,385.20 L483.09,384.06 L483.25,382.87 L483.41,381.61 L483.57,380.29 L483.73,378.90 L483.89,377.46 L484.05,375.96 L484.21,374.40 L484.37,372.78 L484.53,371.10 L484.68,369.37 L484.84,367.58 L485.00,365.74 L485.16,363.85 L485.32,361.90 L485.48,359.90 L485.64,357.85 L485.80,355.76 L485.96,353.61 L486.12,351.42 L486.28,349.18 L486.44,346.89 L486.60,344.57 L486.76,342.20 L486.92,339.79 L487.07,337.34 L487.23,334.85 L487.39,332.33 L487.55,329.77 L487.71,327.17 L487.87,324.55 L488.03,321.89 L488.19,319.20 L488.35,316.48 L488.51,313.74 L488.67,310.97 L488.83,308.17 L488.99,305.36 L489.15,302.52 L489.31,299.66 L489.47,296.78 L489.62,293.89 L489.78,290.98 L489.94,288.06 L490.10,285.13 L490.26,282.18 L490.42,279.23 L490.58,276.27 L490.74,273.30 L490.90,270.33 L491.06,267.35 L491.22,264.38 L491.38,261.40 L491.54,258.43 L491.70,255.46 L491.86,252.50 L492.01,249.54 L492.17,246.59 L492.33,243.66 L492.49,240.73 L492.65,237.81 L492.81,234.92 L492.97,232.03 L493.13,229.17 L493.29,226.32 L493.45,223.49 L493.61,220.69 L493.77,217.91 L493.93,215.16 L494.09,212.43 L494.25,209.73 L494.41,207.06 L494.56,204.42 L494.72,201.81 L494.88,199.24 L495.04,196.70 L495.20,194.19 L495.36,191.73 L495.52,189.30 L495.68,186.92 L495.84,184.58 L496.00,182.27 L496.16,180.02 L496.32,177.81 L496.48,175.64 L496.64,173.52 L496.80,171.46 L496.95,169.44 L497.11,167.47 L497.27,165.55 L497.43,163.69 L497.59,161.88 L497.75,160.13 L497.91,158.43 L498.07,156.79 L498.23,155.20 L498.39,153.68 L498.55,152.21 L498.71,150.80 L498.87,149.46 L499.03,148.17 L499.19,146.95 L499.34,145.79 L499.50,144.70 L499.66,143.67 L499.82,142.70 L499.98,141.80 L500.14,140.96 L500.30,140.19 L500.46,139.49 L500.62,138.85 L500.78,138.28 L500.94,137.78 L501.10,137.34 L501.26,136.98 L501.42,136.68 L501.58,136.45 L501.74,136.28 L501.89,136.19 L502.05,136.16 L502.21,136.20 L502.37,136.28 L502.53,136.41 L502.69,136.60 L502.85,136.83 L503.01,137.11 L503.17,137.45 L503.33,137.83 L503.49,138.27 L503.65,138.75 L503.81,139.28 L503.97,139.86 L504.13,140.48 L504.28,141.16 L504.44,141.87 L504.60,142.64 L504.76,143.45 L504.92,144.30 L505.08,145.20 L505.24,146.14 L505.40,147.13 L505.56,148.15 L505.72,149.22 L505.88,150.32 L506.04,151.47 L506.20,152.65 L506.36,153.86 L506.52,155.12 L506.68,156.41 L506.83,157.73 L506.99,159.08 L507.15,160.46 L507.31,161.88 L507.47,163.32 L507.63,164.79 L507.79,166.29 L507.95,167.81 L508.11,169.35 L508.27,170.92 L508.43,172.51 L508.59,174.11 L508.75,175.74 L508.91,177.38 L509.07,179.04 L509.22,180.71 L509.38,182.40 L509.54,184.09 L509.70,185.80 L509.86,187.51 L510.02,189.23 L510.18,190.95 L510.34,192.68 L510.50,194.41 L510.66,196.15 L510.82,197.88 L510.98,199.61 L511.14,201.33 L511.30,203.05 L511.46,204.77 L511.61,206.47 L511.77,208.17 L511.93,209.85 L512.09,211.53 L512.25,213.18 L512.41,214.83 L512.57,216.45 L512.73,218.06 L512.89,219.65 L513.05,221.22 L513.21,222.77 L513.37,224.29 L513.53,225.79 L513.69,227.26 L513.85,228.70 L514.01,230.12 L514.16,231.51 L514.32,232.86 L514.48,234.18 L514.64,235.47 L514.80,236.73 L514.96,237.95 L515.12,239.13 L515.28,240.28 L515.44,241.39 L515.60,242.45 L515.76,243.48 L515.92,244.47 L516.08,245.41 L516.24,246.31 L516.40,247.17 L516.55,247.98 L516.71,248.75 L516.87,249.48 L517.03,250.15 L517.19,250.78 L517.35,251.36 L517.51,251.90 L517.67,252.38 L517.83,252.82 L517.99,253.20 L518.15,253.54 L518.31,253.83 L518.47,254.07 L518.63,254.25 L518.79,254.39 L518.94,254.48 L519.10,254.51 L519.26,254.50 L519.42,254.43 L519.58,254.31 L519.74,254.14 L519.90,253.92 L520.06,253.65 L520.22,253.33 L520.38,252.96 L520.54,252.53 L520.70,252.06 L520.86,251.54 L521.02,250.97 L521.18,250.35 L521.34,249.68 L521.49,248.96 L521.65,248.20 L521.81,247.39 L521.97,246.54 L522.13,245.64 L522.29,244.69 L522.45,243.71 L522.61,242.67 L522.77,241.60 L522.93,240.49 L523.09,239.33 L523.25,238.14 L523.41,236.90 L523.57,235.63 L523.73,234.32 L523.88,232.98 L524.04,231.60 L524.20,230.19 L524.36,228.74 L524.52,227.27 L524.68,225.76 L524.84,224.23 L525.00,222.67 L525.16,221.08 L525.32,219.46 L525.48,217.82 L525.64,216.16 L525.80,214.48 L525.96,212.77 L526.12,211.05 L526.28,209.31 L526.43,207.56 L526.59,205.78 L526.75,204.00 L526.91,202.20 L527.07,200.40 L527.23,198.58 L527.39,196.75 L527.55,194.92 L527.71,193.09 L527.87,191.25 L528.03,189.40 L528.19,187.56 L528.35,185.72 L528.51,183.88 L528.67,182.04 L528.82,180.21 L528.98,178.39 L529.14,176.57 L529.30,174.76 L529.46,172.96 L529.62,171.18 L529.78,169.41 L529.94,167.65 L530.10,165.91 L530.26,164.18 L530.42,162.48 L530.58,160.79 L530.74,159.13 L530.90,157.49 L531.06,155.87 L531.21,154.28 L531.37,152.72 L531.53,151.18 L531.69,149.67 L531.85,148.20 L532.01,146.75 L532.17,145.34 L532.33,143.96 L532.49,142.61 L532.65,141.30 L532.81,140.03 L532.97,138.79 L533.13,137.59 L533.29,136.43 L533.45,135.32 L533.61,134.24 L533.76,133.21 L533.92,132.22 L534.08,131.27 L534.24,130.36 L534.40,129.51 L534.56,128.69 L534.72,127.93 L534.88,127.21 L535.04,126.54 L535.20,125.92 L535.36,125.34 L535.52,124.82 L535.68,124.34 L535.84,123.91 L536.00,123.54 L536.15,123.21 L536.31,122.94 L536.47,122.71 L536.63,122.54 L536.79,122.42 L536.95,122.35 L537.11,122.33 L537.27,122.37 L537.43,122.48 L537.59,122.65 L537.75,122.88 L537.91,123.17 L538.07,123.53 L538.23,123.96 L538.39,124.45 L538.55,125.00 L538.70,125.61 L538.86,126.28 L539.02,127.02 L539.18,127.82 L539.34,128.68 L539.50,129.60 L539.66,130.58 L539.82,131.62 L539.98,132.73 L540.14,133.89 L540.30,135.10 L540.46,136.38 L540.62,137.71 L540.78,139.10 L540.94,140.55 L541.09,142.05 L541.25,143.61 L541.41,145.21 L541.57,146.88 L541.73,148.59 L541.89,150.35 L542.05,152.17 L542.21,154.03 L542.37,155.94 L542.53,157.90 L542.69,159.91 L542.85,161.96 L543.01,164.06 L543.17,166.20 L543.33,168.38 L543.48,170.60 L543.64,172.86 L543.80,175.16 L543.96,177.50 L544.12,179.88 L544.28,182.29 L544.44,184.74 L544.60,187.22 L544.76,189.73 L544.92,192.27 L545.08,194.84 L545.24,197.44 L545.40,200.07 L545.56,202.72 L545.72,205.39 L545.88,208.09 L546.03,210.81 L546.19,213.55 L546.35,216.31 L546.51,219.09 L546.67,221.88 L546.83,224.69 L546.99,227.51 L547.15,230.34 L547.31,233.19 L547.47,236.04 L547.63,238.90 L547.79,241.76 L547.95,244.63 L548.11,247.51 L548.27,250.38 L548.42,253.26 L548.58,256.14 L548.74,259.01 L548.90,261.88 L549.06,264.74 L549.22,267.60 L549.38,270.45 L549.54,273.29 L549.70,276.12 L549.86,278.94 L550.02,281.74 L550.18,284.53 L550.34,287.30 L550.50,290.06 L550.66,292.79 L550.81,295.51 L550.97,298.20 L551.13,300.87 L551.29,303.51 L551.45,306.13 L551.61,308.72 L551.77,311.29 L551.93,313.82 L552.09,316.32 L552.25,318.80 L552.41,321.23 L552.57,323.64 L552.73,326.00 L552.89,328.33 L553.05,330.62 L553.21,332.88 L553.36,335.09 L553.52,337.26 L553.68,339.39 L553.84,341.47 L554.00,343.51 L554.16,345.50 L554.32,347.45 L554.48,349.35 L554.64,351.20 L554.80,353.00 L554.96,354.75 L555.12,356.45 L555.28,358.10 L555.44,359.69 L555.60,361.23 L555.75,362.72 L555.91,364.15 L556.07,365.52 L556.23,366.84 L556.39,368.10 L556.55,369.31 L556.71,370.45 L556.87,371.54 L557.03,372.56 L557.19,373.53 L557.35,374.43 L557.51,375.28 L557.67,376.06 L557.83,376.78 L557.99,377.44 L558.15,378.04 L558.30,378.57 L558.46,379.04 L558.62,379.45 L558.78,379.79 L558.94,380.07 L559.10,380.28 L559.26,380.44 L559.42,380.52 L559.58,380.55 L559.74,380.51 L559.90,380.41 L560.06,380.26 L560.22,380.05 L560.38,379.78 L560.54,379.46 L560.69,379.07 L560.85,378.63 L561.01,378.13 L561.17,377.58 L561.33,376.97 L561.49,376.30 L561.65,375.58 L561.81,374.80 L561.97,373.96 L562.13,373.07 L562.29,372.13 L562.45,371.13 L562.61,370.08 L562.77,368.98 L562.93,367.83 L563.08,366.62 L563.24,365.36 L563.40,364.05 L563.56,362.69 L563.72,361.29 L563.88,359.83 L564.04,358.33 L564.20,356.78 L564.36,355.18 L564.52,353.54 L564.68,351.86 L564.84,350.13 L565.00,348.35 L565.16,346.54 L565.32,344.68 L565.48,342.79 L565.63,340.86 L565.79,338.88 L565.95,336.87 L566.11,334.83 L566.27,332.75 L566.43,330.64 L566.59,328.49 L566.75,326.31 L566.91,324.10 L567.07,321.86 L567.23,319.59 L567.39,317.30 L567.55,314.98 L567.71,312.63 L567.87,310.26 L568.02,307.87 L568.18,305.45 L568.34,303.02 L568.50,300.57 L568.66,298.09 L568.82,295.61 L568.98,293.10 L569.14,290.59 L569.30,288.06 L569.46,285.52 L569.62,282.96 L569.78,280.40 L569.94,277.84 L570.10,275.26 L570.26,272.68 L570.42,270.10 L570.57,267.51 L570.73,264.93 L570.89,262.34 L571.05,259.76 L571.21,257.17 L571.37,254.60 L571.53,252.02 L571.69,249.46 L571.85,246.90 L572.01,244.35 L572.17,241.81 L572.33,239.28 L572.49,236.77 L572.65,234.27 L572.81,231.79 L572.96,229.32 L573.12,226.87 L573.28,224.44 L573.44,222.04 L573.60,219.65 L573.76,217.29 L573.92,214.95 L574.08,212.63 L574.24,210.34 L574.40,208.08 L574.56,205.85 L574.72,203.65 L574.88,201.48 L575.04,199.34 L575.20,197.24 L575.35,195.17 L575.51,193.13 L575.67,191.13 L575.83,189.17 L575.99,187.25 L576.15,185.36 L576.31,183.52 L576.47,181.71 L576.63,179.95 L576.79,178.24 L576.95,176.56 L577.11,174.93 L577.27,173.35 L577.43,171.81 L577.59,170.32 L577.75,168.88 L577.90,167.48 L578.06,166.14 L578.22,164.84 L578.38,163.60 L578.54,162.41 L578.70,161.26 L578.86,160.17 L579.02,159.14 L579.18,158.16 L579.34,157.23 L579.50,156.35 L579.66,155.53 L579.82,154.77 L579.98,154.06 L580.14,153.41 L580.29,152.81 L580.45,152.27 L580.61,151.79 L580.77,151.36 L580.93,150.99 L581.09,150.68 L581.25,150.43 L581.41,150.24 L581.57,150.10 L581.73,150.02 L581.89,150.00 L582.05,150.02 L582.21,150.09 L582.37,150.19 L582.53,150.34 L582.68,150.52 L582.84,150.75 L583.00,151.01 L583.16,151.31 L583.32,151.65 L583.48,152.03 L583.64,152.45 L583.80,152.90 L583.96,153.39 L584.12,153.92 L584.28,154.49 L584.44,155.09 L584.60,155.73 L584.76,156.40 L584.92,157.10 L585.08,157.84 L585.23,158.61 L585.39,159.42 L585.55,160.25 L585.71,161.12 L585.87,162.02 L586.03,162.94 L586.19,163.90 L586.35,164.88 L586.51,165.88 L586.67,166.92 L586.83,167.98 L586.99,169.06 L587.15,170.16 L587.31,171.29 L587.47,172.44 L587.62,173.61 L587.78,174.79 L587.94,175.99 L588.10,177.22 L588.26,178.45 L588.42,179.70 L588.58,180.97 L588.74,182.24 L588.90,183.53 L589.06,184.83 L589.22,186.13 L589.38,187.44 L589.54,188.76 L589.70,190.09 L589.86,191.42 L590.02,192.75 L590.17,194.08 L590.33,195.41 L590.49,196.75 L590.65,198.08 L590.81,199.41 L590.97,200.73 L591.13,202.05 L591.29,203.36 L591.45,204.66 L591.61,205.96 L591.77,207.24 L591.93,208.51 L592.09,209.77 L592.25,211.02 L592.41,212.25 L592.56,213.47 L592.72,214.67 L592.88,215.85 L593.04,217.01 L593.20,218.15 L593.36,219.27 L593.52,220.37 L593.68,221.45 L593.84,222.50 L594.00,223.53 L594.16,224.53 L594.32,225.50 L594.48,226.45 L594.64,227.37 L594.80,228.25 L594.95,229.11 L595.11,229.94 L595.27,230.73 L595.43,231.50 L595.59,232.23 L595.75,232.92 L595.91,233.59 L596.07,234.21 L596.23,234.81 L596.39,235.36 L596.55,235.88 L596.71,236.36 L596.87,236.81 L597.03,237.21 L597.19,237.58 L597.35,237.91 L597.50,238.21 L597.66,238.46 L597.82,238.67 L597.98,238.85 L598.14,238.98 L598.30,239.07 L598.46,239.13 L598.62,239.14 L598.78,239.12 L598.94,239.05 L599.10,238.94 L599.26,238.80 L599.42,238.61 L599.58,238.38 L599.74,238.12 L599.89,237.81 L600.05,237.46 L600.21,237.08 L600.37,236.65 L600.53,236.19 L600.69,235.69 L600.85,235.15 L601.01,234.58 L601.17,233.96 L601.33,233.32 L601.49,232.63 L601.65,231.91 L601.81,231.16 L601.97,230.37 L602.13,229.55 L602.29,228.69 L602.44,227.81 L602.60,226.89 L602.76,225.94 L602.92,224.96 L603.08,223.95 L603.24,222.92 L603.40,221.86 L603.56,220.77 L603.72,219.65 L603.88,218.51 L604.04,217.35 L604.20,216.16 L604.36,214.96 L604.52,213.73 L604.68,212.48 L604.83,211.21 L604.99,209.93 L605.15,208.62 L605.31,207.31 L605.47,205.97 L605.63,204.63 L605.79,203.27 L605.95,201.90 L606.11,200.52 L606.27,199.13 L606.43,197.73 L606.59,196.33 L606.75,194.91 L606.91,193.50 L607.07,192.08 L607.22,190.66 L607.38,189.24 L607.54,187.82 L607.70,186.39 L607.86,184.98 L608.02,183.56 L608.18,182.15 L608.34,180.74 L608.50,179.35 L608.66,177.96 L608.82,176.58 L608.98,175.20 L609.14,173.84 L609.30,172.50 L609.46,171.16 L609.62,169.84 L609.77,168.54 L609.93,167.25 L610.09,165.99 L610.25,164.74 L610.41,163.51 L610.57,162.30 L610.73,161.11 L610.89,159.94 L611.05,158.80 L611.21,157.69 L611.37,156.60 L611.53,155.53 L611.69,154.49 L611.85,153.49 L612.01,152.51 L612.16,151.55 L612.32,150.64 L612.48,149.75 L612.64,148.89 L612.80,148.07 L612.96,147.28 L613.12,146.52 L613.28,145.80 L613.44,145.11 L613.60,144.46 L613.76,143.84 L613.92,143.27 L614.08,142.72 L614.24,142.22 L614.40,141.76 L614.55,141.33 L614.71,140.94 L614.87,140.59 L615.03,140.28 L615.19,140.01 L615.35,139.78 L615.51,139.59 L615.67,139.45 L615.83,139.34 L615.99,139.27 L616.15,139.24 L616.31,139.25 L616.47,139.32 L616.63,139.45 L616.79,139.62 L616.95,139.85 L617.10,140.13 L617.26,140.46 L617.42,140.85 L617.58,141.29 L617.74,141.77 L617.90,142.32 L618.06,142.91 L618.22,143.55 L618.38,144.25 L618.54,145.00 L618.70,145.79 L618.86,146.64 L619.02,147.54 L619.18,148.48 L619.34,149.47 L619.49,150.52 L619.65,151.61 L619.81,152.74 L619.97,153.93 L620.13,155.16 L620.29,156.43 L620.45,157.75 L620.61,159.12 L620.77,160.53 L620.93,161.98 L621.09,163.47 L621.25,165.01 L621.41,166.58 L621.57,168.20 L621.73,169.86 L621.89,171.55 L622.04,173.28 L622.20,175.05 L622.36,176.86 L622.52,178.70 L622.68,180.58 L622.84,182.49 L623.00,184.43 L623.16,186.40 L623.32,188.41 L623.48,190.44 L623.64,192.50 L623.80,194.60 L623.96,196.71 L624.12,198.86 L624.28,201.03 L624.43,203.22 L624.59,205.44 L624.75,207.68 L624.91,209.94 L625.07,212.22 L625.23,214.52 L625.39,216.83 L625.55,219.17 L625.71,221.51 L625.87,223.88 L626.03,226.25 L626.19,228.64 L626.35,231.04 L626.51,233.45 L626.67,235.87 L626.82,238.29 L626.98,240.72 L627.14,243.16 L627.30,245.60 L627.46,248.05 L627.62,250.49 L627.78,252.94 L627.94,255.39 L628.10,257.83 L628.26,260.28 L628.42,262.72 L628.58,265.15 L628.74,267.58 L628.90,270.00 L629.06,272.41 L629.22,274.82 L629.37,277.21 L629.53,279.59 L629.69,281.96 L629.85,284.31 L630.01,286.65 L630.17,288.97 L630.33,291.28 L630.49,293.57 L630.65,295.83 L630.81,298.08 L630.97,300.31 L631.13,302.51 L631.29,304.69 L631.45,306.85 L631.61,308.97 L631.76,311.08 L631.92,313.15 L632.08,315.20 L632.24,317.22 L632.40,319.20 L632.56,321.16 L632.72,323.08 L632.88,324.97 L633.04,326.82 L633.20,328.64 L633.36,330.43 L633.52,332.18 L633.68,333.89 L633.84,335.56 L634.00,337.19 L634.16,338.78 L634.31,340.33 L634.47,341.84 L634.63,343.31 L634.79,344.74 L634.95,346.12 L635.11,347.46 L635.27,348.75 L635.43,350.00 L635.59,351.20 L635.75,352.36 L635.91,353.47 L636.07,354.53 L636.23,355.54 L636.39,356.51 L636.55,357.42 L636.70,358.29 L636.86,359.11 L637.02,359.87 L637.18,360.59 L637.34,361.25 L637.50,361.87 L637.66,362.43 L637.82,362.94 L637.98,363.40 L638.14,363.81 L638.30,364.16 L638.46,364.46 L638.62,364.71 L638.78,364.91 L638.94,365.05 L639.09,365.14 L639.25,365.18 L639.41,365.16 L639.57,365.10 L639.73,364.99 L639.89,364.83 L640.05,364.62 L640.21,364.36 L640.37,364.06 L640.53,363.71 L640.69,363.31 L640.85,362.86 L641.01,362.36 L641.17,361.82 L641.33,361.23 L641.49,360.60 L641.64,359.91 L641.80,359.18 L641.96,358.41 L642.12,357.59 L642.28,356.73 L642.44,355.82 L642.60,354.87 L642.76,353.87 L642.92,352.83 L643.08,351.75 L643.24,350.62 L643.40,349.46 L643.56,348.25 L643.72,347.00 L643.88,345.71 L644.03,344.39 L644.19,343.02 L644.35,341.62 L644.51,340.17 L644.67,338.70 L644.83,337.18 L644.99,335.63 L645.15,334.05 L645.31,332.43 L645.47,330.78 L645.63,329.09 L645.79,327.38 L645.95,325.63 L646.11,323.85 L646.27,322.05 L646.42,320.21 L646.58,318.35 L646.74,316.46 L646.90,314.55 L647.06,312.61 L647.22,310.65 L647.38,308.66 L647.54,306.66 L647.70,304.63 L647.86,302.58 L648.02,300.51 L648.18,298.42 L648.34,296.32 L648.50,294.20 L648.66,292.06 L648.82,289.91 L648.97,287.75 L649.13,285.58 L649.29,283.39 L649.45,281.19 L649.61,278.99 L649.77,276.77 L649.93,274.55 L650.09,272.32 L650.25,270.09 L650.41,267.85 L650.57,265.61 L650.73,263.37 L650.89,261.13 L651.05,258.89 L651.21,256.65 L651.36,254.41 L651.52,252.17 L651.68,249.94 L651.84,247.71 L652.00,245.50 L652.16,243.28 L652.32,241.08 L652.48,238.89 L652.64,236.70 L652.80,234.53 L652.96,232.37 L653.12,230.22 L653.28,228.09 L653.44,225.98 L653.60,223.88 L653.76,221.80 L653.91,219.73 L654.07,217.69 L654.23,215.67 L654.39,213.66 L654.55,211.68 L654.71,209.73 L654.87,207.80 L655.03,205.89 L655.19,204.01 L655.35,202.15 L655.51,200.33 L655.67,198.53 L655.83,196.76 L655.99,195.02 L656.15,193.31 L656.30,191.64 L656.46,190.00 L656.62,188.39 L656.78,186.81 L656.94,185.27 L657.10,183.77 L657.26,182.30 L657.42,180.87 L657.58,179.47 L657.74,178.12 L657.90,176.80 L658.06,175.52 L658.22,174.28 L658.38,173.09 L658.54,171.93 L658.69,170.82 L658.85,169.75 L659.01,168.72 L659.17,167.73 L659.33,166.79 L659.49,165.90 L659.65,165.04 L659.81,164.24 L659.97,163.48 L660.13,162.76 L660.29,162.09 L660.45,161.47 L660.61,160.89 L660.77,160.36 L660.93,159.88 L661.09,159.44 L661.24,159.05 L661.40,158.71 L661.56,158.42 L661.72,158.18 L661.88,157.98 L662.04,157.84 L662.20,157.74 L662.36,157.69 L662.52,157.69 L662.68,157.72 L662.84,157.78 L663.00,157.87 L663.16,158.00 L663.32,158.15 L663.48,158.34 L663.63,158.56 L663.79,158.81 L663.95,159.09 L664.11,159.40 L664.27,159.74 L664.43,160.11 L664.59,160.51 L664.75,160.94 L664.91,161.40 L665.07,161.89 L665.23,162.40 L665.39,162.94 L665.55,163.51 L665.71,164.11 L665.87,164.73 L666.03,165.37 L666.18,166.04 L666.34,166.74 L666.50,167.46 L666.66,168.20 L666.82,168.96 L666.98,169.75 L667.14,170.55 L667.30,171.38 L667.46,172.23 L667.62,173.09 L667.78,173.97 L667.94,174.87 L668.10,175.79 L668.26,176.72 L668.42,177.66 L668.57,178.62 L668.73,179.59 L668.89,180.58 L669.05,181.57 L669.21,182.58 L669.37,183.59 L669.53,184.62 L669.69,185.65 L669.85,186.69 L670.01,187.73 L670.17,188.78 L670.33,189.83 L670.49,190.88 L670.65,191.94 L670.81,193.00 L670.96,194.06 L671.12,195.11 L671.28,196.17 L671.44,197.22 L671.60,198.27 L671.76,199.31 L671.92,200.35 L672.08,201.38 L672.24,202.40 L672.40,203.42 L672.56,204.43 L672.72,205.42 L672.88,206.41 L673.04,207.38 L673.20,208.34 L673.36,209.29 L673.51,210.22 L673.67,211.13 L673.83,212.03 L673.99,212.92 L674.15,213.78 L674.31,214.63 L674.47,215.46 L674.63,216.27 L674.79,217.05 L674.95,217.82 L675.11,218.56 L675.27,219.28 L675.43,219.98 L675.59,220.65 L675.75,221.30 L675.90,221.92 L676.06,222.52 L676.22,223.09 L676.38,223.63 L676.54,224.15 L676.70,224.63 L676.86,225.09 L677.02,225.53 L677.18,225.93 L677.34,226.30 L677.50,226.64 L677.66,226.96 L677.82,227.24 L677.98,227.49 L678.14,227.71 L678.29,227.90 L678.45,228.06 L678.61,228.19 L678.77,228.28 L678.93,228.35 L679.09,228.38 L679.25,228.38 L679.41,228.35 L679.57,228.29 L679.73,228.20 L679.89,228.08 L680.05,227.93 L680.21,227.74 L680.37,227.53 L680.53,227.29 L680.69,227.02 L680.84,226.72 L681.00,226.39 L681.16,226.03 L681.32,225.64 L681.48,225.22 L681.64,224.78 L681.80,224.31 L681.96,223.81 L682.12,223.28 L682.28,222.73 L682.44,222.15 L682.60,221.55 L682.76,220.92 L682.92,220.27 L683.08,219.60 L683.23,218.90 L683.39,218.18 L683.55,217.43 L683.71,216.67 L683.87,215.89 L684.03,215.08 L684.19,214.26 L684.35,213.42 L684.51,212.56 L684.67,211.68 L684.83,210.79 L684.99,209.88 L685.15,208.96 L685.31,208.02 L685.47,207.07 L685.63,206.11 L685.78,205.14 L685.94,204.15 L686.10,203.16 L686.26,202.16 L686.42,201.15 L686.58,200.13 L686.74,199.11 L686.90,198.08 L687.06,197.05 L687.22,196.01 L687.38,194.98 L687.54,193.94 L687.70,192.89 L687.86,191.85 L688.02,190.81 L688.17,189.78 L688.33,188.74 L688.49,187.71 L688.65,186.68 L688.81,185.66 L688.97,184.65 L689.13,183.64 L689.29,182.64 L689.45,181.65 L689.61,180.67 L689.77,179.70 L689.93,178.74 L690.09,177.79 L690.25,176.86 L690.41,175.94 L690.56,175.04 L690.72,174.15 L690.88,173.28 L691.04,172.42 L691.20,171.59 L691.36,170.77 L691.52,169.97 L691.68,169.19 L691.84,168.43 L692.00,167.69 L692.16,166.98 L692.32,166.29 L692.48,165.62 L692.64,164.97 L692.80,164.35 L692.96,163.76 L693.11,163.19 L693.27,162.64 L693.43,162.12 L693.59,161.63 L693.75,161.17 L693.91,160.73 L694.07,160.32 L694.23,159.94 L694.39,159.59 L694.55,159.27 L694.71,158.97 L694.87,158.71 L695.03,158.47 L695.19,158.27 L695.35,158.10 L695.50,157.95 L695.66,157.84 L695.82,157.76 L695.98,157.70 L696.14,157.68 L696.30,157.69 L696.46,157.74 L696.62,157.82 L696.78,157.94 L696.94,158.09 L697.10,158.28 L697.26,158.50 L697.42,158.76 L697.58,159.05 L697.74,159.38 L697.90,159.74 L698.05,160.14 L698.21,160.57 L698.37,161.03 L698.53,161.53 L698.69,162.07 L698.85,162.63 L699.01,163.23 L699.17,163.87 L699.33,164.54 L699.49,165.24 L699.65,165.97 L699.81,166.73 L699.97,167.53 L700.13,168.36 L700.29,169.22 L700.44,170.11 L700.60,171.03 L700.76,171.98 L700.92,172.96 L701.08,173.98 L701.24,175.02 L701.40,176.09 L701.56,177.18 L701.72,178.31 L701.88,179.46 L702.04,180.64 L702.20,181.85 L702.20,431.50 Z" fill="#a2b4ff"/>
<rect x="48.3" y="57.2" width="1.9" height="408.1" fill="#111"/>
<rect x="742.1" y="59.6" width="1.9" height="405.7" fill="#111"/>
<rect x="45.50" y="439.99" width="2.50" height="1" fill="#000"/>
<rect x="42.30" y="409.25" width="5.70" height="1" fill="#000"/>
<rect x="45.50" y="378.51" width="2.50" height="1" fill="#000"/>
<rect x="45.50" y="347.77" width="2.50" height="1" fill="#000"/>
<rect x="45.50" y="317.03" width="2.50" height="1" fill="#000"/>
<rect x="45.50" y="286.29" width="2.50" height="1" fill="#000"/>
<rect x="42.30" y="255.55" width="5.70" height="1" fill="#000"/>
<rect x="45.50" y="224.81" width="2.50" height="1" fill="#000"/>
<rect x="45.50" y="194.07" width="2.50" height="1" fill="#000"/>
<rect x="45.50" y="163.33" width="2.50" height="1" fill="#000"/>
<rect x="45.50" y="132.59" width="2.50" height="1" fill="#000"/>
<rect x="42.30" y="101.85" width="5.70" height="1" fill="#000"/>
<rect x="45.50" y="71.11" width="2.50" height="1" fill="#000"/>
<text x="35.3" y="413.25" font-size="12" text-anchor="end" fill="#000">0 m</text>
<text x="35.3" y="259.55" font-size="12" text-anchor="end" fill="#000">1 m</text>
<text x="35.3" y="105.85" font-size="12" text-anchor="end" fill="#000">2 m</text>
<rect x="744" y="455.91" width="5.80" height="1" fill="#000"/>
<text x="781" y="461.71" font-size="12" text-anchor="end" fill="#000">−1 ft</text>
<rect x="744" y="432.58" width="2.60" height="1" fill="#000"/>
<rect x="744" y="409.25" width="5.80" height="1" fill="#000"/>
<text x="781" y="415.05" font-size="12" text-anchor="end" fill="#000">0 ft</text>
<rect x="744" y="385.92" width="2.60" height="1" fill="#000"/>
<rect x="744" y="362.59" width="5.80" height="1" fill="#000"/>
<text x="781" y="368.39" font-size="12" text-anchor="end" fill="#000">1 ft</text>
<rect x="744" y="339.26" width="2.60" height="1" fill="#000"/>
<rect x="744" y="315.94" width="5.80" height="1" fill="#000"/>
<text x="781" y="321.74" font-size="12" text-anchor="end" fill="#000">2 ft</text>
<rect x="744" y="292.61" width="2.60" height="1" fill="#000"/>
<rect x="744" y="269.28" width="5.80" height="1" fill="#000"/>
<text x="781" y="275.08" font-size="12" text-anchor="end" fill="#000">3 ft</text>
<rect x="744" y="245.95" width="2.60" height="1" fill="#000"/>
<rect x="744" y="222.62" width="5.80" height="1" fill="#000"/>
<text x="781" y="228.42" font-size="12" text-anchor="end" fill="#000">4 ft</text>
<rect x="744" y="199.29" width="2.60" height="1" fill="#000"/>
<rect x="744" y="175.97" width="5.80" height="1" fill="#000"/>
<text x="781" y="181.77" font-size="12" text-anchor="end" fill="#000">5 ft</text>
<rect x="744" y="152.64" width="2.60" height="1" fill="#000"/>
<rect x="744" y="129.31" width="5.80" height="1" fill="#000"/>
<text x="781" y="135.11" font-size="12" text-anchor="end" fill="#000">6 ft</text>
<rect x="744" y="105.98" width="2.60" height="1" fill="#000"/>
<rect x="744" y="82.65" width="5.80" height="1" fill="#000"/>
<text x="781" y="88.45" font-size="12" text-anchor="end" fill="#000">7 ft</text>
<rect x="744" y="59.32" width="2.60" height="1" fill="#000"/>
<text x="396.8" y="14.4" font-size="16.7" text-anchor="middle" fill="#000">Rongcheng (max. tidal range 2.21m 7.3ft)</text>
<text x="396.1" y="29.1" font-size="10.96" font-weight="bold" text-anchor="middle" fill="#000">Times are CST (UTC +8.0hrs). Last Spring Tide on Wed 12 Oct (h=2.01m 6.6ft). Next Spring Tide on Thu 27 Oct (h=2.03m 6.7ft)</text>
<text x="102.91" y="41.9" font-size="11" text-anchor="middle" fill="#ff0000">Tue</text>
<text x="102.91" y="52.8" font-size="11" text-anchor="middle" fill="#ff0000">25–Oct</text>
<text x="179.40" y="41.9" font-size="11" text-anchor="middle" fill="#ff0000">Wed</text>
<text x="179.40" y="52.8" font-size="11" text-anchor="middle" fill="#ff0000">26–Oct</text>
<text x="255.89" y="41.9" font-size="11" text-anchor="middle" fill="#ff0000">Thu</text>
<text x="255.89" y="52.8" font-size="11" text-anchor="middle" fill="#ff0000">27–Oct</text>
<text x="332.38" y="41.9" font-size="11" text-anchor="middle" fill="#ff0000">Fri</text>
<text x="332.38" y="52.8" font-size="11" text-anchor="middle" fill="#ff0000">28–Oct</text>
<text x="408.87" y="41.9" font-size="11" text-anchor="middle" fill="#ff0000">Sat</text>
<text x="408.87" y="52.8" font-size="11" text-anchor="middle" fill="#ff0000">29–Oct</text>
<text x="485.35" y="41.9" font-size="11" text-anchor="middle" fill="#ff0000">Sun</text>
<text x="485.35" y="52.8" font-size="11" text-anchor="middle" fill="#ff0000">30–Oct</text>
<text x="561.84" y="41.9" font-size="11" text-anchor="middle" fill="#ff0000">Mon</text>
<text x="561.84" y="52.8" font-size="11" text-anchor="middle" fill="#ff0000">31–Oct</text>
<text x="638.33" y="41.9" font-size="11" text-anchor="middle" fill="#ff0000">Tue</text>
<text x="638.33" y="52.8" font-size="11" text-anchor="middle" fill="#ff0000">01–Nov</text>
<text x="714.82" y="41.9" font-size="11" text-anchor="middle" fill="#ff0000">Wed</text>
<text x="714.82" y="52.8" font-size="11" text-anchor="middle" fill="#ff0000">02–Nov</text>
<circle cx="126.18" cy="328.29" r="2.1" fill="#000"/>
<text x="126.18" y="338.39" font-size="9.4" text-anchor="middle" fill="#000" stroke="#000" stroke-width="0.1">0.53 m</text>
<text x="126.18" y="349.19" font-size="9.4" text-anchor="middle" fill="#000" stroke="#000" stroke-width="0.1">1.7 ft</text>
<text x="126.18" y="358.29" font-size="9.4" text-anchor="middle" fill="#000" stroke="#000" stroke-width="0.1">7:18 pm</text>
<circle cx="145.57" cy="102.35" r="2.1" fill="#000"/>
<text x="145.57" y="80.15" font-size="9.4" text-anchor="middle" fill="#000" stroke="#000" stroke-width="0.1">1:23 am</text>
<text x="145.57" y="89.15" font-size="9.4" text-anchor="middle" fill="#000" stroke="#000" stroke-width="0.1">6.6 ft</text>
<text x="145.57" y="98.65" font-size="9.4" text-anchor="middle" fill="#000" stroke="#000" stroke-width="0.1">2.00 m</text>
<circle cx="165.91" cy="372.86" r="2.1" fill="#000"/>
<text x="165.91" y="382.96" font-size="9.4" text-anchor="middle" fill="#000" stroke="#000" stroke-width="0.1">0.24 m</text>
<text x="165.91" y="393.76" font-size="9.4" text-anchor="middle" fill="#000" stroke="#000" stroke-width="0.1">0.8 ft</text>
<text x="165.91" y="402.86" font-size="9.4" text-anchor="middle" fill="#000" stroke="#000" stroke-width="0.1">7:46 am</text>
<circle cx="185.99" cy="113.11" r="2.1" fill="#000"/>
<text x="185.99" y="90.91" font-size="9.4" text-anchor="middle" fill="#000" stroke="#000" stroke-width="0.1">2:04 pm</text>
<text x="185.99" y="99.91" font-size="9.4" text-anchor="middle" fill="#000" stroke="#000" stroke-width="0.1">6.3 ft</text>
<text x="185.99" y="109.41" font-size="9.4" text-anchor="middle" fill="#000" stroke="#000" stroke-width="0.1">1.93 m</text>
<circle cx="204.63" cy="319.07" r="2.1" fill="#000"/>
<text x="204.63" y="329.17" font-size="9.4" text-anchor="middle" fill="#000" stroke="#000" stroke-width="0.1">0.59 m</text>
<text x="204.63" y="339.97" font-size="9.4" text-anchor="middle" fill="#000" stroke="#000" stroke-width="0.1">1.9 ft</text>
<text x="204.63" y="349.07" font-size="9.4" text-anchor="middle" fill="#000" stroke="#000" stroke-width="0.1">7:55 pm</text>
<circle cx="223.60" cy="97.74" r="2.1" fill="#000"/>
<text x="223.60" y="75.54" font-size="9.4" text-anchor="middle" fill="#000" stroke="#000" stroke-width="0.1">1:52 am</text>
<text x="223.60" y="84.54" font-size="9.4" text-anchor="middle" fill="#000" stroke="#000" stroke-width="0.1">6.7 ft</text>
<text x="223.60" y="94.04" font-size="9.4" text-anchor="middle" fill="#000" stroke="#000" stroke-width="0.1">2.03 m</text>
<circle cx="244.26" cy="389.77" r="2.1" fill="#000"/>
<text x="244.26" y="399.87" font-size="9.4" text-anchor="middle" fill="#000" stroke="#000" stroke-width="0.1">0.13 m</text>
<text x="244.26" y="410.67" font-size="9.4" text-anchor="middle" fill="#000" stroke="#000" stroke-width="0.1">0.4 ft</text>
<text x="244.26" y="419.77" font-size="9.4" text-anchor="middle" fill="#000" stroke="#000" stroke-width="0.1">8:21 am</text>
<circle cx="264.76" cy="110.04" r="2.1" fill="#000"/>
<text x="264.76" y="87.84" font-size="9.4" text-anchor="middle" fill="#000" stroke="#000" stroke-width="0.1">2:47 pm</text>
<text x="264.76" y="96.84" font-size="9.4" text-anchor="middle" fill="#000" stroke="#000" stroke-width="0.1">6.4 ft</text>
<text x="264.76" y="106.34" font-size="9.4" text-anchor="middle" fill="#000" stroke="#000" stroke-width="0.1">1.95 m</text>
<circle cx="283.09" cy="305.23" r="2.1" fill="#000"/>
<text x="283.09" y="315.33" font-size="9.4" text-anchor="middle" fill="#000" stroke="#000" stroke-width="0.1">0.68 m</text>
<text x="283.09" y="326.13" font-size="9.4" text-anchor="middle" fill="#000" stroke="#000" stroke-width="0.1">2.2 ft</text>
<text x="283.09" y="335.23" font-size="9.4" text-anchor="middle" fill="#000" stroke="#000" stroke-width="0.1">8:32 pm</text>
<circle cx="301.73" cy="97.74" r="2.1" fill="#000"/>
<text x="301.73" y="75.54" font-size="9.4" text-anchor="middle" fill="#000" stroke="#000" stroke-width="0.1">2:23 am</text>
<text x="301.73" y="84.54" font-size="9.4" text-anchor="middle" fill="#000" stroke="#000" stroke-width="0.1">6.7 ft</text>
<text x="301.73" y="94.04" font-size="9.4" text-anchor="middle" fill="#000" stroke="#000" stroke-width="0.1">2.03 m</text>
<circle cx="322.76" cy="398.99" r="2.1" fill="#000"/>
<text x="322.76" y="409.09" font-size="9.4" text-anchor="middle" fill="#000" stroke="#000" stroke-width="0.1">0.07 m</text>
<text x="322.76" y="419.89" font-size="9.4" text-anchor="middle" fill="#000" stroke="#000" stroke-width="0.1">0.2 ft</text>
<text x="322.76" y="428.99" font-size="9.4" text-anchor="middle" fill="#000" stroke="#000" stroke-width="0.1">8:59 am</text>
<circle cx="343.64" cy="114.65" r="2.1" fill="#000"/>
<text x="343.64" y="92.45" font-size="9.4" text-anchor="middle" fill="#000" stroke="#000" stroke-width="0.1">3:32 pm</text>
<text x="343.64" y="101.45" font-size="9.4" text-anchor="middle" fill="#000" stroke="#000" stroke-width="0.1">6.3 ft</text>
<text x="343.64" y="110.95" font-size="9.4" text-anchor="middle" fill="#000" stroke="#000" stroke-width="0.1">1.92 m</text>
<circle cx="361.59" cy="289.86" r="2.1" fill="#000"/>
<text x="361.59" y="299.96" font-size="9.4" text-anchor="middle" fill="#000" stroke="#000" stroke-width="0.1">0.78 m</text>
<text x="361.59" y="310.76" font-size="9.4" text-anchor="middle" fill="#000" stroke="#000" stroke-width="0.1">2.6 ft</text>
<text x="361.59" y="319.86" font-size="9.4" text-anchor="middle" fill="#000" stroke="#000" stroke-width="0.1">9:10 pm</text>
<circle cx="379.97" cy="102.35" r="2.1" fill="#000"/>
<text x="379.97" y="80.15" font-size="9.4" text-anchor="middle" fill="#000" stroke="#000" stroke-width="0.1">2:56 am</text>
<text x="379.97" y="89.15" font-size="9.4" text-anchor="middle" fill="#000" stroke="#000" stroke-width="0.1">6.6 ft</text>
<text x="379.97" y="98.65" font-size="9.4" text-anchor="middle" fill="#000" stroke="#000" stroke-width="0.1">2.00 m</text>
<circle cx="401.43" cy="400.53" r="2.1" fill="#000"/>
<text x="401.43" y="410.63" font-size="9.4" text-anchor="middle" fill="#000" stroke="#000" stroke-width="0.1">0.06 m</text>
<text x="401.43" y="421.43" font-size="9.4" text-anchor="middle" fill="#000" stroke="#000" stroke-width="0.1">0.2 ft</text>
<text x="401.43" y="430.53" font-size="9.4" text-anchor="middle" fill="#000" stroke="#000" stroke-width="0.1">9:40 am</text>
<circle cx="422.68" cy="122.33" r="2.1" fill="#000"/>
<text x="422.68" y="100.13" font-size="9.4" text-anchor="middle" fill="#000" stroke="#000" stroke-width="0.1">4:20 pm</text>
<text x="422.68" y="109.13" font-size="9.4" text-anchor="middle" fill="#000" stroke="#000" stroke-width="0.1">6.1 ft</text>
<text x="422.68" y="118.63" font-size="9.4" text-anchor="middle" fill="#000" stroke="#000" stroke-width="0.1">1.87 m</text>
<circle cx="440.20" cy="272.96" r="2.1" fill="#000"/>
<text x="440.20" y="283.06" font-size="9.4" text-anchor="middle" fill="#000" stroke="#000" stroke-width="0.1">0.89 m</text>
<text x="440.20" y="293.86" font-size="9.4" text-anchor="middle" fill="#000" stroke="#000" stroke-width="0.1">2.9 ft</text>
<text x="440.20" y="302.96" font-size="9.4" text-anchor="middle" fill="#000" stroke="#000" stroke-width="0.1">9:50 pm</text>
<circle cx="458.42" cy="110.04" r="2.1" fill="#000"/>
<text x="458.42" y="87.84" font-size="9.4" text-anchor="middle" fill="#000" stroke="#000" stroke-width="0.1">3:33 am</text>
<text x="458.42" y="96.84" font-size="9.4" text-anchor="middle" fill="#000" stroke="#000" stroke-width="0.1">6.4 ft</text>
<text x="458.42" y="106.34" font-size="9.4" text-anchor="middle" fill="#000" stroke="#000" stroke-width="0.1">1.95 m</text>
<circle cx="480.31" cy="394.38" r="2.1" fill="#000"/>
<text x="480.31" y="404.48" font-size="9.4" text-anchor="middle" fill="#000" stroke="#000" stroke-width="0.1">0.10 m</text>
<text x="480.31" y="415.28" font-size="9.4" text-anchor="middle" fill="#000" stroke="#000" stroke-width="0.1">0.3 ft</text>
<text x="480.31" y="424.38" font-size="9.4" text-anchor="middle" fill="#000" stroke="#000" stroke-width="0.1">10:25 am</text>
<circle cx="502.03" cy="136.16" r="2.1" fill="#000"/>
<text x="502.03" y="113.96" font-size="9.4" text-anchor="middle" fill="#000" stroke="#000" stroke-width="0.1">5:14 pm</text>
<text x="502.03" y="122.96" font-size="9.4" text-anchor="middle" fill="#000" stroke="#000" stroke-width="0.1">5.8 ft</text>
<text x="502.03" y="132.46" font-size="9.4" text-anchor="middle" fill="#000" stroke="#000" stroke-width="0.1">1.78 m</text>
<circle cx="519.14" cy="254.51" r="2.1" fill="#000"/>
<text x="519.14" y="264.61" font-size="9.4" text-anchor="middle" fill="#000" stroke="#000" stroke-width="0.1">1.01 m</text>
<text x="519.14" y="275.41" font-size="9.4" text-anchor="middle" fill="#000" stroke="#000" stroke-width="0.1">3.3 ft</text>
<text x="519.14" y="284.51" font-size="9.4" text-anchor="middle" fill="#000" stroke="#000" stroke-width="0.1">10:36 pm</text>
<circle cx="537.09" cy="122.33" r="2.1" fill="#000"/>
<text x="537.09" y="100.13" font-size="9.4" text-anchor="middle" fill="#000" stroke="#000" stroke-width="0.1">4:14 am</text>
<text x="537.09" y="109.13" font-size="9.4" text-anchor="middle" fill="#000" stroke="#000" stroke-width="0.1">6.1 ft</text>
<text x="537.09" y="118.63" font-size="9.4" text-anchor="middle" fill="#000" stroke="#000" stroke-width="0.1">1.87 m</text>
<circle cx="559.56" cy="380.55" r="2.1" fill="#000"/>
<text x="559.56" y="390.65" font-size="9.4" text-anchor="middle" fill="#000" stroke="#000" stroke-width="0.1">0.19 m</text>
<text x="559.56" y="401.45" font-size="9.4" text-anchor="middle" fill="#000" stroke="#000" stroke-width="0.1">0.6 ft</text>
<text x="559.56" y="410.55" font-size="9.4" text-anchor="middle" fill="#000" stroke="#000" stroke-width="0.1">11:17 am</text>
<circle cx="581.87" cy="150.00" r="2.1" fill="#000"/>
<text x="581.87" y="127.80" font-size="9.4" text-anchor="middle" fill="#000" stroke="#000" stroke-width="0.1">6:17 pm</text>
<text x="581.87" y="136.80" font-size="9.4" text-anchor="middle" fill="#000" stroke="#000" stroke-width="0.1">5.5 ft</text>
<text x="581.87" y="146.30" font-size="9.4" text-anchor="middle" fill="#000" stroke="#000" stroke-width="0.1">1.69 m</text>
<circle cx="598.60" cy="239.14" r="2.1" fill="#000"/>
<text x="598.60" y="249.24" font-size="9.4" text-anchor="middle" fill="#000" stroke="#000" stroke-width="0.1">1.11 m</text>
<text x="598.60" y="260.04" font-size="9.4" text-anchor="middle" fill="#000" stroke="#000" stroke-width="0.1">3.6 ft</text>
<text x="598.60" y="269.14" font-size="9.4" text-anchor="middle" fill="#000" stroke="#000" stroke-width="0.1">11:32 pm</text>
<circle cx="616.18" cy="139.24" r="2.1" fill="#000"/>
<text x="616.18" y="117.04" font-size="9.4" text-anchor="middle" fill="#000" stroke="#000" stroke-width="0.1">5:03 am</text>
<text x="616.18" y="126.04" font-size="9.4" text-anchor="middle" fill="#000" stroke="#000" stroke-width="0.1">5.8 ft</text>
<text x="616.18" y="135.54" font-size="9.4" text-anchor="middle" fill="#000" stroke="#000" stroke-width="0.1">1.76 m</text>
<circle cx="639.29" cy="365.18" r="2.1" fill="#000"/>
<text x="639.29" y="375.28" font-size="9.4" text-anchor="middle" fill="#000" stroke="#000" stroke-width="0.1">0.29 m</text>
<text x="639.29" y="386.08" font-size="9.4" text-anchor="middle" fill="#000" stroke="#000" stroke-width="0.1">1.0 ft</text>
<text x="639.29" y="395.18" font-size="9.4" text-anchor="middle" fill="#000" stroke="#000" stroke-width="0.1">12:18 pm</text>
<circle cx="662.44" cy="157.68" r="2.1" fill="#000"/>
<text x="662.44" y="135.48" font-size="9.4" text-anchor="middle" fill="#000" stroke="#000" stroke-width="0.1">7:34 pm</text>
<text x="662.44" y="144.48" font-size="9.4" text-anchor="middle" fill="#000" stroke="#000" stroke-width="0.1">5.4 ft</text>
<text x="662.44" y="153.98" font-size="9.4" text-anchor="middle" fill="#000" stroke="#000" stroke-width="0.1">1.64 m</text>
<circle cx="679.18" cy="228.38" r="2.1" fill="#000"/>
<text x="679.18" y="238.48" font-size="9.4" text-anchor="middle" fill="#000" stroke="#000" stroke-width="0.1">1.18 m</text>
<text x="679.18" y="249.28" font-size="9.4" text-anchor="middle" fill="#000" stroke="#000" stroke-width="0.1">3.9 ft</text>
<text x="679.18" y="258.38" font-size="9.4" text-anchor="middle" fill="#000" stroke="#000" stroke-width="0.1">12:49 am</text>
<circle cx="696.17" cy="157.68" r="2.1" fill="#000"/>
<text x="696.17" y="135.48" font-size="9.4" text-anchor="middle" fill="#000" stroke="#000" stroke-width="0.1">6:09 am</text>
<text x="696.17" y="144.48" font-size="9.4" text-anchor="middle" fill="#000" stroke="#000" stroke-width="0.1">5.4 ft</text>
<text x="696.17" y="153.98" font-size="9.4" text-anchor="middle" fill="#000" stroke="#000" stroke-width="0.1">1.64 m</text>
<g font-size="11" fill="#000">
<text x="45.5" y="479.90" text-anchor="end">Sunrise</text>
<text x="746.6" y="479.90">Sunrise</text>
<text x="45.5" y="493.90" text-anchor="end">Sunset</text>
<text x="746.6" y="493.90">Sunset</text>
<text x="45.5" y="507.10" text-anchor="end">Moonrise</text>
<text x="746.6" y="507.10">Moonrise</text>
<text x="45.5" y="521.00" text-anchor="end">Moonset</text>
<text x="746.6" y="521.00">Moonset</text>
</g>
<polygon points="160.65,468.90 162.18,473.50 167.02,473.53 163.12,476.40 164.59,481.02 160.65,478.20 156.71,481.02 158.18,476.40 154.28,473.53 159.12,473.50" fill="#6f6030" stroke="#6f6030" stroke-width="0.9" stroke-linejoin="miter"/><circle cx="160.65" cy="475.60" r="4.20" fill="#6f6030" stroke="#6f6030" stroke-width="1.0"/><polygon points="160.65,468.90 162.18,473.50 167.02,473.53 163.12,476.40 164.59,481.02 160.65,478.20 156.71,481.02 158.18,476.40 154.28,473.53 159.12,473.50" fill="#bf9000"/><circle cx="160.65" cy="475.60" r="4.20" fill="#bf9000"/>
<text x="167.85" y="479.6" font-size="9.9" letter-spacing="-0.35" stroke="#111" stroke-width="0.12" fill="#111">6:07am</text>
<polygon points="237.19,468.90 238.72,473.50 243.57,473.53 239.67,476.40 241.13,481.02 237.19,478.20 233.25,481.02 234.72,476.40 230.82,473.53 235.66,473.50" fill="#6f6030" stroke="#6f6030" stroke-width="0.9" stroke-linejoin="miter"/><circle cx="237.19" cy="475.60" r="4.20" fill="#6f6030" stroke="#6f6030" stroke-width="1.0"/><polygon points="237.19,468.90 238.72,473.50 243.57,473.53 239.67,476.40 241.13,481.02 237.19,478.20 233.25,481.02 234.72,476.40 230.82,473.53 235.66,473.50" fill="#bf9000"/><circle cx="237.19" cy="475.60" r="4.20" fill="#bf9000"/>
<text x="244.39" y="479.6" font-size="9.9" letter-spacing="-0.35" stroke="#111" stroke-width="0.12" fill="#111">6:08am</text>
<polygon points="313.73,468.90 315.26,473.50 320.11,473.53 316.21,476.40 317.67,481.02 313.73,478.20 309.80,481.02 311.26,476.40 307.36,473.53 312.21,473.50" fill="#6f6030" stroke="#6f6030" stroke-width="0.9" stroke-linejoin="miter"/><circle cx="313.73" cy="475.60" r="4.20" fill="#6f6030" stroke="#6f6030" stroke-width="1.0"/><polygon points="313.73,468.90 315.26,473.50 320.11,473.53 316.21,476.40 317.67,481.02 313.73,478.20 309.80,481.02 311.26,476.40 307.36,473.53 312.21,473.50" fill="#bf9000"/><circle cx="313.73" cy="475.60" r="4.20" fill="#bf9000"/>
<text x="320.93" y="479.6" font-size="9.9" letter-spacing="-0.35" stroke="#111" stroke-width="0.12" fill="#111">6:09am</text>
<polygon points="390.28,468.90 391.80,473.50 396.65,473.53 392.75,476.40 394.21,481.02 390.28,478.20 386.34,481.02 387.80,476.40 383.90,473.53 388.75,473.50" fill="#6f6030" stroke="#6f6030" stroke-width="0.9" stroke-linejoin="miter"/><circle cx="390.28" cy="475.60" r="4.20" fill="#6f6030" stroke="#6f6030" stroke-width="1.0"/><polygon points="390.28,468.90 391.80,473.50 396.65,473.53 392.75,476.40 394.21,481.02 390.28,478.20 386.34,481.02 387.80,476.40 383.90,473.53 388.75,473.50" fill="#bf9000"/><circle cx="390.28" cy="475.60" r="4.20" fill="#bf9000"/>
<text x="397.48" y="479.6" font-size="9.9" letter-spacing="-0.35" stroke="#111" stroke-width="0.12" fill="#111">6:10am</text>
<polygon points="466.82,468.90 468.34,473.50 473.19,473.53 469.29,476.40 470.75,481.02 466.82,478.20 462.88,481.02 464.34,476.40 460.44,473.53 465.29,473.50" fill="#6f6030" stroke="#6f6030" stroke-width="0.9" stroke-linejoin="miter"/><circle cx="466.82" cy="475.60" r="4.20" fill="#6f6030" stroke="#6f6030" stroke-width="1.0"/><polygon points="466.82,468.90 468.34,473.50 473.19,473.53 469.29,476.40 470.75,481.02 466.82,478.20 462.88,481.02 464.34,476.40 460.44,473.53 465.29,473.50" fill="#bf9000"/><circle cx="466.82" cy="475.60" r="4.20" fill="#bf9000"/>
<text x="474.02" y="479.6" font-size="9.9" letter-spacing="-0.35" stroke="#111" stroke-width="0.12" fill="#111">6:11am</text>
<polygon points="543.36,468.90 544.89,473.50 549.73,473.53 545.83,476.40 547.30,481.02 543.36,478.20 539.42,481.02 540.88,476.40 536.99,473.53 541.83,473.50" fill="#6f6030" stroke="#6f6030" stroke-width="0.9" stroke-linejoin="miter"/><circle cx="543.36" cy="475.60" r="4.20" fill="#6f6030" stroke="#6f6030" stroke-width="1.0"/><polygon points="543.36,468.90 544.89,473.50 549.73,473.53 545.83,476.40 547.30,481.02 543.36,478.20 539.42,481.02 540.88,476.40 536.99,473.53 541.83,473.50" fill="#bf9000"/><circle cx="543.36" cy="475.60" r="4.20" fill="#bf9000"/>
<text x="550.56" y="479.6" font-size="9.9" letter-spacing="-0.35" stroke="#111" stroke-width="0.12" fill="#111">6:12am</text>
<polygon points="619.90,468.90 621.43,473.50 626.27,473.53 622.37,476.40 623.84,481.02 619.90,478.20 615.96,481.02 617.43,476.40 613.53,473.53 618.37,473.50" fill="#6f6030" stroke="#6f6030" stroke-width="0.9" stroke-linejoin="miter"/><circle cx="619.90" cy="475.60" r="4.20" fill="#6f6030" stroke="#6f6030" stroke-width="1.0"/><polygon points="619.90,468.90 621.43,473.50 626.27,473.53 622.37,476.40 623.84,481.02 619.90,478.20 615.96,481.02 617.43,476.40 613.53,473.53 618.37,473.50" fill="#bf9000"/><circle cx="619.90" cy="475.60" r="4.20" fill="#bf9000"/>
<text x="627.10" y="479.6" font-size="9.9" letter-spacing="-0.35" stroke="#111" stroke-width="0.12" fill="#111">6:13am</text>
<polygon points="696.44,468.90 697.97,473.50 702.81,473.53 698.91,476.40 700.38,481.02 696.44,478.20 692.50,481.02 693.97,476.40 690.07,473.53 694.91,473.50" fill="#6f6030" stroke="#6f6030" stroke-width="0.9" stroke-linejoin="miter"/><circle cx="696.44" cy="475.60" r="4.20" fill="#6f6030" stroke="#6f6030" stroke-width="1.0"/><polygon points="696.44,468.90 697.97,473.50 702.81,473.53 698.91,476.40 700.38,481.02 696.44,478.20 692.50,481.02 693.97,476.40 690.07,473.53 694.91,473.50" fill="#bf9000"/><circle cx="696.44" cy="475.60" r="4.20" fill="#bf9000"/>
<text x="703.64" y="479.6" font-size="9.9" letter-spacing="-0.35" stroke="#111" stroke-width="0.12" fill="#111">6:14am</text>
<polygon points="118.90,482.60 120.43,487.20 125.27,487.23 121.37,490.10 122.84,494.72 118.90,491.90 114.96,494.72 116.43,490.10 112.53,487.23 117.37,487.20" fill="#6f6030" stroke="#6f6030" stroke-width="0.9" stroke-linejoin="miter"/><circle cx="118.90" cy="489.30" r="4.20" fill="#6f6030" stroke="#6f6030" stroke-width="1.0"/><polygon points="118.90,482.60 120.43,487.20 125.27,487.23 121.37,490.10 122.84,494.72 118.90,491.90 114.96,494.72 116.43,490.10 112.53,487.23 117.37,487.20" fill="#bf9000"/><circle cx="118.90" cy="489.30" r="4.20" fill="#bf9000"/>
<text x="126.10" y="493.2" font-size="9.9" letter-spacing="-0.35" stroke="#111" stroke-width="0.12" fill="#111">5:01pm</text>
<polygon points="195.34,482.60 196.87,487.20 201.71,487.23 197.81,490.10 199.28,494.72 195.34,491.90 191.40,494.72 192.86,490.10 188.96,487.23 193.81,487.20" fill="#6f6030" stroke="#6f6030" stroke-width="0.9" stroke-linejoin="miter"/><circle cx="195.34" cy="489.30" r="4.20" fill="#6f6030" stroke="#6f6030" stroke-width="1.0"/><polygon points="195.34,482.60 196.87,487.20 201.71,487.23 197.81,490.10 199.28,494.72 195.34,491.90 191.40,494.72 192.86,490.10 188.96,487.23 193.81,487.20" fill="#bf9000"/><circle cx="195.34" cy="489.30" r="4.20" fill="#bf9000"/>
<text x="202.54" y="493.2" font-size="9.9" letter-spacing="-0.35" stroke="#111" stroke-width="0.12" fill="#111">5:00pm</text>
<polygon points="271.77,482.60 273.30,487.20 278.14,487.23 274.24,490.10 275.71,494.72 271.77,491.90 267.83,494.72 269.30,490.10 265.40,487.23 270.24,487.20" fill="#6f6030" stroke="#6f6030" stroke-width="0.9" stroke-linejoin="miter"/><circle cx="271.77" cy="489.30" r="4.20" fill="#6f6030" stroke="#6f6030" stroke-width="1.0"/><polygon points="271.77,482.60 273.30,487.20 278.14,487.23 274.24,490.10 275.71,494.72 271.77,491.90 267.83,494.72 269.30,490.10 265.40,487.23 270.24,487.20" fill="#bf9000"/><circle cx="271.77" cy="489.30" r="4.20" fill="#bf9000"/>
<text x="278.97" y="493.2" font-size="9.9" letter-spacing="-0.35" stroke="#111" stroke-width="0.12" fill="#111">4:59pm</text>
<polygon points="348.15,482.60 349.68,487.20 354.53,487.23 350.63,490.10 352.09,494.72 348.15,491.90 344.22,494.72 345.68,490.10 341.78,487.23 346.63,487.20" fill="#6f6030" stroke="#6f6030" stroke-width="0.9" stroke-linejoin="miter"/><circle cx="348.15" cy="489.30" r="4.20" fill="#6f6030" stroke="#6f6030" stroke-width="1.0"/><polygon points="348.15,482.60 349.68,487.20 354.53,487.23 350.63,490.10 352.09,494.72 348.15,491.90 344.22,494.72 345.68,490.10 341.78,487.23 346.63,487.20" fill="#bf9000"/><circle cx="348.15" cy="489.30" r="4.20" fill="#bf9000"/>
<text x="355.35" y="493.2" font-size="9.9" letter-spacing="-0.35" stroke="#111" stroke-width="0.12" fill="#111">4:57pm</text>
<polygon points="424.59,482.60 426.12,487.20 430.96,487.23 427.06,490.10 428.53,494.72 424.59,491.90 420.65,494.72 422.12,490.10 418.22,487.23 423.06,487.20" fill="#6f6030" stroke="#6f6030" stroke-width="0.9" stroke-linejoin="miter"/><circle cx="424.59" cy="489.30" r="4.20" fill="#6f6030" stroke="#6f6030" stroke-width="1.0"/><polygon points="424.59,482.60 426.12,487.20 430.96,487.23 427.06,490.10 428.53,494.72 424.59,491.90 420.65,494.72 422.12,490.10 418.22,487.23 423.06,487.20" fill="#bf9000"/><circle cx="424.59" cy="489.30" r="4.20" fill="#bf9000"/>
<text x="431.79" y="493.2" font-size="9.9" letter-spacing="-0.35" stroke="#111" stroke-width="0.12" fill="#111">4:56pm</text>
<polygon points="501.02,482.60 502.55,487.20 507.40,487.23 503.50,490.10 504.96,494.72 501.02,491.90 497.09,494.72 498.55,490.10 494.65,487.23 499.50,487.20" fill="#6f6030" stroke="#6f6030" stroke-width="0.9" stroke-linejoin="miter"/><circle cx="501.02" cy="489.30" r="4.20" fill="#6f6030" stroke="#6f6030" stroke-width="1.0"/><polygon points="501.02,482.60 502.55,487.20 507.40,487.23 503.50,490.10 504.96,494.72 501.02,491.90 497.09,494.72 498.55,490.10 494.65,487.23 499.50,487.20" fill="#bf9000"/><circle cx="501.02" cy="489.30" r="4.20" fill="#bf9000"/>
<text x="508.22" y="493.2" font-size="9.9" letter-spacing="-0.35" stroke="#111" stroke-width="0.12" fill="#111">4:55pm</text>
<polygon points="577.46,482.60 578.99,487.20 583.83,487.23 579.93,490.10 581.40,494.72 577.46,491.90 573.52,494.72 574.99,490.10 571.09,487.23 575.93,487.20" fill="#6f6030" stroke="#6f6030" stroke-width="0.9" stroke-linejoin="miter"/><circle cx="577.46" cy="489.30" r="4.20" fill="#6f6030" stroke="#6f6030" stroke-width="1.0"/><polygon points="577.46,482.60 578.99,487.20 583.83,487.23 579.93,490.10 581.40,494.72 577.46,491.90 573.52,494.72 574.99,490.10 571.09,487.23 575.93,487.20" fill="#bf9000"/><circle cx="577.46" cy="489.30" r="4.20" fill="#bf9000"/>
<text x="584.66" y="493.2" font-size="9.9" letter-spacing="-0.35" stroke="#111" stroke-width="0.12" fill="#111">4:54pm</text>
<polygon points="653.89,482.60 655.42,487.20 660.27,487.23 656.37,490.10 657.83,494.72 653.89,491.90 649.96,494.72 651.42,490.10 647.52,487.23 652.36,487.20" fill="#6f6030" stroke="#6f6030" stroke-width="0.9" stroke-linejoin="miter"/><circle cx="653.89" cy="489.30" r="4.20" fill="#6f6030" stroke="#6f6030" stroke-width="1.0"/><polygon points="653.89,482.60 655.42,487.20 660.27,487.23 656.37,490.10 657.83,494.72 653.89,491.90 649.96,494.72 651.42,490.10 647.52,487.23 652.36,487.20" fill="#bf9000"/><circle cx="653.89" cy="489.30" r="4.20" fill="#bf9000"/>
<text x="661.09" y="493.2" font-size="9.9" letter-spacing="-0.35" stroke="#111" stroke-width="0.12" fill="#111">4:53pm</text>
<circle cx="162.56" cy="502.8" r="5.2" fill="#ffffcc" stroke="#7a7a7a" stroke-width="0.9"/>
<text x="169.96" y="506.3" font-size="9.9" letter-spacing="-0.35" stroke="#111" stroke-width="0.12" fill="#111">6:43am</text>
<circle cx="242.88" cy="502.8" r="5.2" fill="#ffffcc" stroke="#7a7a7a" stroke-width="0.9"/>
<text x="250.28" y="506.3" font-size="9.9" letter-spacing="-0.35" stroke="#111" stroke-width="0.12" fill="#111">7:55am</text>
<circle cx="323.30" cy="502.8" r="5.2" fill="#ffffcc" stroke="#7a7a7a" stroke-width="0.9"/>
<text x="330.70" y="506.3" font-size="9.9" letter-spacing="-0.35" stroke="#111" stroke-width="0.12" fill="#111">9:09am</text>
<circle cx="403.61" cy="502.8" r="5.2" fill="#ffffcc" stroke="#7a7a7a" stroke-width="0.9"/>
<text x="411.01" y="506.3" font-size="9.9" letter-spacing="-0.35" stroke="#111" stroke-width="0.12" fill="#111">10:21am</text>
<circle cx="483.60" cy="502.8" r="5.2" fill="#ffffcc" stroke="#7a7a7a" stroke-width="0.9"/>
<text x="491.00" y="506.3" font-size="9.9" letter-spacing="-0.35" stroke="#111" stroke-width="0.12" fill="#111">11:27am</text>
<circle cx="563.17" cy="502.8" r="5.2" fill="#ffffcc" stroke="#7a7a7a" stroke-width="0.9"/>
<text x="570.57" y="506.3" font-size="9.9" letter-spacing="-0.35" stroke="#111" stroke-width="0.12" fill="#111">12:25pm</text>
<circle cx="642.15" cy="502.8" r="5.2" fill="#ffffcc" stroke="#7a7a7a" stroke-width="0.9"/>
<text x="649.55" y="506.3" font-size="9.9" letter-spacing="-0.35" stroke="#111" stroke-width="0.12" fill="#111">1:12pm</text>
<circle cx="118.74" cy="516.5" r="5.2" fill="#cdc8b0" stroke="#7a7a7a" stroke-width="0.9"/>
<text x="126.14" y="520.1" font-size="9.9" letter-spacing="-0.35" stroke="#111" stroke-width="0.12" fill="#111">4:58pm</text>
<circle cx="196.88" cy="516.5" r="5.2" fill="#cdc8b0" stroke="#7a7a7a" stroke-width="0.9"/>
<text x="204.28" y="520.1" font-size="9.9" letter-spacing="-0.35" stroke="#111" stroke-width="0.12" fill="#111">5:29pm</text>
<circle cx="275.28" cy="516.5" r="5.2" fill="#cdc8b0" stroke="#7a7a7a" stroke-width="0.9"/>
<text x="282.68" y="520.1" font-size="9.9" letter-spacing="-0.35" stroke="#111" stroke-width="0.12" fill="#111">6:05pm</text>
<circle cx="354.10" cy="516.5" r="5.2" fill="#cdc8b0" stroke="#7a7a7a" stroke-width="0.9"/>
<text x="361.50" y="520.1" font-size="9.9" letter-spacing="-0.35" stroke="#111" stroke-width="0.12" fill="#111">6:49pm</text>
<circle cx="433.41" cy="516.5" r="5.2" fill="#cdc8b0" stroke="#7a7a7a" stroke-width="0.9"/>
<text x="440.81" y="520.1" font-size="9.9" letter-spacing="-0.35" stroke="#111" stroke-width="0.12" fill="#111">7:42pm</text>
<circle cx="513.24" cy="516.5" r="5.2" fill="#cdc8b0" stroke="#7a7a7a" stroke-width="0.9"/>
<text x="520.64" y="520.1" font-size="9.9" letter-spacing="-0.35" stroke="#111" stroke-width="0.12" fill="#111">8:45pm</text>
<circle cx="593.45" cy="516.5" r="5.2" fill="#cdc8b0" stroke="#7a7a7a" stroke-width="0.9"/>
<text x="600.85" y="520.1" font-size="9.9" letter-spacing="-0.35" stroke="#111" stroke-width="0.12" fill="#111">9:55pm</text>
<circle cx="673.76" cy="516.5" r="5.2" fill="#cdc8b0" stroke="#7a7a7a" stroke-width="0.9"/>
<text x="681.16" y="520.1" font-size="9.9" letter-spacing="-0.35" stroke="#111" stroke-width="0.12" fill="#111">11:07pm</text>
<text x="125.81" y="533.3" font-size="9.4" text-anchor="end" fill="#222" style="white-space:pre">New Moon |</text>
<text x="125.81" y="533.3" font-size="9.4" fill="#222" style="white-space:pre"> 6:48pm</text>
<text x="647.89" y="533.3" font-size="9.4" text-anchor="end" fill="#222" style="white-space:pre">First Quarter |</text>
<text x="647.89" y="533.3" font-size="9.4" fill="#222" style="white-space:pre"> 2:37pm</text>
</svg></body></html>
